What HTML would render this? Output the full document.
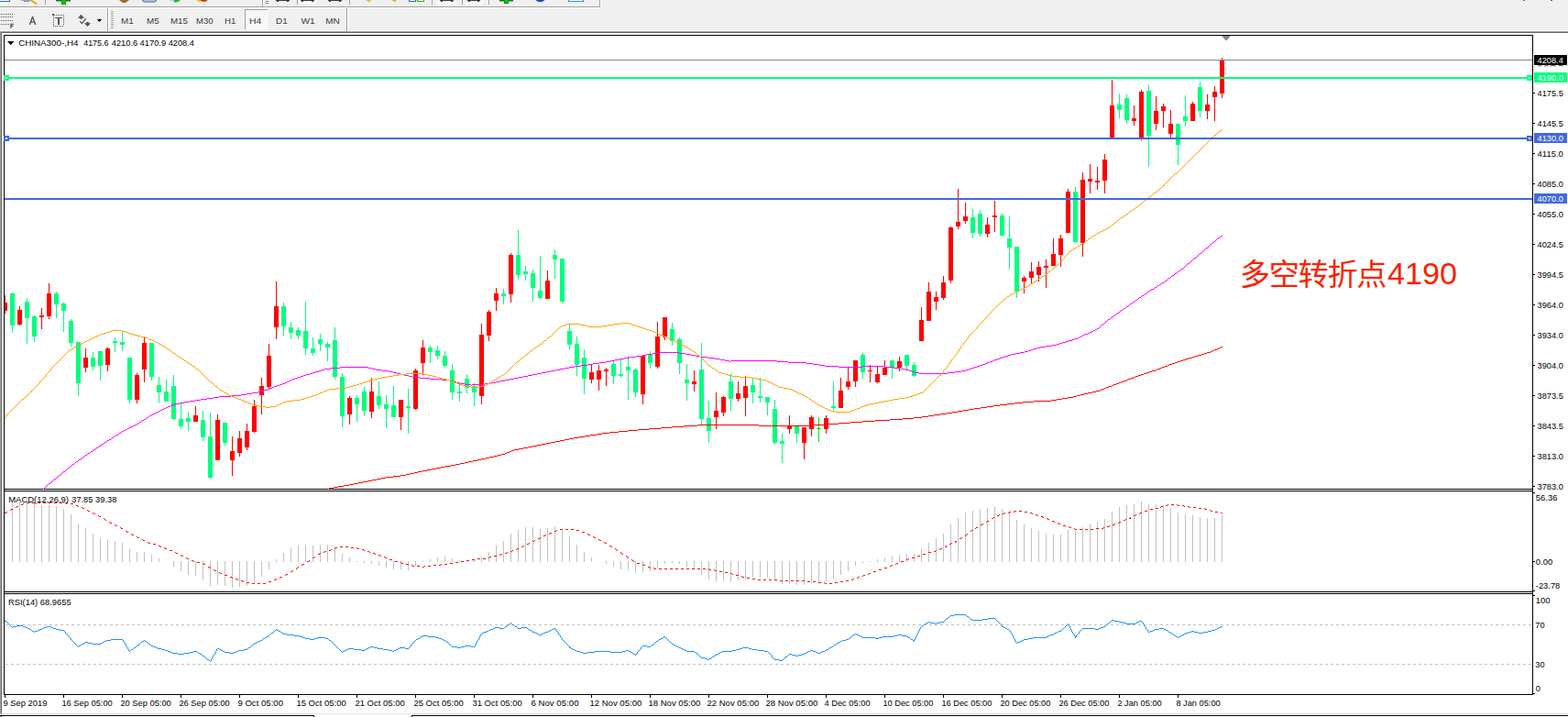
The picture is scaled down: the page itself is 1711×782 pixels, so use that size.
<!DOCTYPE html>
<html><head><meta charset="utf-8"><title>CHINA300 H4</title>
<style>
html,body{margin:0;padding:0;}
body{width:1711px;height:782px;overflow:hidden;background:#f0f0f0;position:relative;font-family:"Liberation Sans",sans-serif;}
svg text{font-family:"Liberation Sans",sans-serif;}
</style></head>
<body>
<svg width="1711" height="782" viewBox="0 0 1711 782" shape-rendering="crispEdges" font-family="Liberation Sans, sans-serif" style="position:absolute;left:0;top:0;display:block"><defs><clipPath id="sl"><rect x="1674" y="71" width="37" height="1.4"/></clipPath></defs><rect x="0" y="7" width="655" height="1" fill="#a0a0a0"/>
<rect x="0" y="8" width="655" height="1" fill="#ffffff"/>
<rect x="654" y="0" width="1" height="8" fill="#a0a0a0"/>
<rect x="655" y="0" width="1" height="9" fill="#fbfbfb"/>
<rect x="0" y="33" width="1711" height="1" fill="#fafafa"/>
<rect x="0" y="34" width="1711" height="1" fill="#a0a0a0"/>
<rect x="0" y="35" width="1711" height="1" fill="#696969"/>
<rect x="2" y="36" width="1709" height="746" fill="#ffffff"/>
<rect x="0" y="34" width="1" height="745" fill="#a0a0a0"/>
<rect x="1" y="35" width="1" height="743" fill="#696969"/>
<rect x="1" y="778" width="1710" height="1" fill="#e3e3e3"/>
<rect x="0" y="779" width="1711" height="3" fill="#ffffff"/>
<rect x="0" y="780" width="343" height="1" fill="#000"/>
<rect x="342" y="780" width="1" height="2" fill="#000"/>
<rect x="449" y="780" width="1262" height="1" fill="#000"/>
<rect x="449" y="780" width="1" height="2" fill="#000"/>
<rect x="0" y="781" width="1" height="1" fill="#a0a0a0"/>
<rect x="1" y="781" width="1" height="1" fill="#696969"/>
<rect x="0" y="0" width="16" height="5" fill="#f7f7f7"/>
<rect x="0" y="0" width="10" height="1" fill="#ffffff"/>
<rect x="0" y="1" width="11" height="1" fill="#2f6fd0"/>
<rect x="10" y="0" width="1" height="2" fill="#2f6fd0"/>
<rect x="23" y="0" width="11" height="1" fill="#9aaabd"/>
<rect x="26" y="1" width="6" height="1" fill="#7f93ad"/>
<path d="M32 0 L35 0 L41 4 L39 5 Z" fill="#d9a520" shape-rendering="auto"/>
<rect x="49" y="0" width="1" height="5" fill="#a0a0a0"/>
<rect x="61" y="0" width="16" height="1" fill="#0a7a0a"/>
<rect x="61" y="1" width="16" height="1" fill="#7fbf7f"/>
<rect x="67" y="0" width="5" height="5" fill="#0a8f0a"/>
<rect x="68" y="0" width="3" height="4" fill="#14c814"/>
<path d="M130 0 L141 0 L137 3 L134 3 Z" fill="#a5681f" shape-rendering="auto"/>
<rect x="155.5" y="-3" width="15" height="5" rx="2" fill="#b8c6e0" stroke="#4a62a8" shape-rendering="auto"/>
<path d="M185 0 L190 0 L190 2 Q187 2 185 0 Z" fill="#b9d2ee" shape-rendering="auto"/>
<path d="M190 0 L197 0 Q195 3 190 2.5 Z" fill="#2db52d" shape-rendering="auto"/>
<circle cx="217.5" cy="-1" r="3" fill="#f0c020" shape-rendering="auto"/>
<circle cx="222.5" cy="-2.5" r="4.6" fill="#e52a12" shape-rendering="auto"/>
<rect x="286" y="0" width="1" height="7" fill="#a0a0a0"/>
<rect x="287" y="0" width="1" height="7" fill="#ffffff"/>
<rect x="290" y="1" width="3" height="1" fill="#808080"/>
<rect x="290" y="3" width="3" height="1" fill="#808080"/>
<rect x="301" y="0" width="15" height="1" fill="#3c3c3c"/>
<rect x="302" y="1" width="2" height="1" fill="#3c3c3c"/>
<rect x="313" y="1" width="2" height="1" fill="#3c3c3c"/>
<rect x="324" y="0" width="1" height="5" fill="#a0a0a0"/>
<rect x="325" y="0" width="21" height="5" fill="#f8f8f8"/>
<rect x="328" y="0" width="15" height="1" fill="#3c3c3c"/>
<rect x="329" y="1" width="2" height="1" fill="#3c3c3c"/>
<rect x="340" y="1" width="2" height="1" fill="#3c3c3c"/>
<rect x="358" y="0" width="15" height="1" fill="#3c3c3c"/>
<rect x="359" y="1" width="2" height="1" fill="#3c3c3c"/>
<rect x="370" y="1" width="2" height="1" fill="#3c3c3c"/>
<rect x="381" y="0" width="1" height="5" fill="#a0a0a0"/>
<path d="M399 0 L405 0 L403 2.5 Z" fill="#e8b820" shape-rendering="auto"/>
<path d="M427 0 L433 0 L431 2.5 Z" fill="#e8b820" shape-rendering="auto"/>
<rect x="446" y="0" width="8" height="2" fill="#ffffff"/>
<rect x="446" y="1" width="8" height="1" fill="#2f5fd0"/>
<rect x="446" y="0" width="1" height="2" fill="#2f5fd0"/>
<rect x="453" y="0" width="1" height="2" fill="#2f5fd0"/>
<rect x="455" y="0" width="8" height="2" fill="#ffffff"/>
<rect x="455" y="1" width="8" height="1" fill="#2faa2f"/>
<rect x="455" y="0" width="1" height="2" fill="#2faa2f"/>
<rect x="462" y="0" width="1" height="2" fill="#2faa2f"/>
<rect x="471" y="0" width="1" height="5" fill="#a0a0a0"/>
<rect x="477" y="0" width="21" height="5" fill="#f8f8f8"/>
<rect x="480" y="0" width="15" height="1" fill="#3c3c3c"/>
<rect x="481" y="1" width="2" height="1" fill="#3c3c3c"/>
<rect x="492" y="1" width="2" height="1" fill="#3c3c3c"/>
<rect x="504" y="0" width="1" height="5" fill="#a0a0a0"/>
<rect x="507" y="0" width="20" height="5" fill="#f8f8f8"/>
<rect x="510" y="0" width="14" height="1" fill="#3c3c3c"/>
<rect x="511" y="1" width="2" height="1" fill="#3c3c3c"/>
<rect x="521" y="1" width="2" height="1" fill="#3c3c3c"/>
<rect x="533" y="0" width="1" height="5" fill="#a0a0a0"/>
<rect x="545" y="0" width="15" height="1" fill="#0a7a0a"/>
<rect x="545" y="1" width="15" height="1" fill="#7fbf7f"/>
<rect x="550" y="0" width="5" height="4" fill="#0a8f0a"/>
<rect x="551" y="0" width="3" height="3" fill="#14c814"/>
<circle cx="589.5" cy="-4" r="6.2" fill="#1846c4" shape-rendering="auto"/>
<rect x="620" y="0" width="17" height="2" fill="#ffffff"/>
<rect x="620" y="1" width="17" height="1" fill="#3f86dc"/>
<rect x="620" y="0" width="1" height="2" fill="#3f86dc"/>
<rect x="636" y="0" width="1" height="2" fill="#3f86dc"/>
<rect x="1662" y="0" width="2" height="1" fill="#3f6fe0"/>
<rect x="1692" y="0" width="2" height="1" fill="#606060"/>
<rect x="1" y="15" width="1" height="1" fill="#555555"/>
<rect x="3" y="15" width="1" height="1" fill="#555555"/>
<rect x="5" y="15" width="1" height="1" fill="#555555"/>
<rect x="7" y="15" width="1" height="1" fill="#555555"/>
<rect x="9" y="15" width="1" height="1" fill="#555555"/>
<rect x="11" y="15" width="1" height="1" fill="#555555"/>
<rect x="13" y="15" width="1" height="1" fill="#555555"/>
<rect x="1" y="18" width="1" height="1" fill="#555555"/>
<rect x="3" y="18" width="1" height="1" fill="#555555"/>
<rect x="5" y="18" width="1" height="1" fill="#555555"/>
<rect x="7" y="18" width="1" height="1" fill="#555555"/>
<rect x="9" y="18" width="1" height="1" fill="#555555"/>
<rect x="11" y="18" width="1" height="1" fill="#555555"/>
<rect x="13" y="18" width="1" height="1" fill="#555555"/>
<rect x="1" y="22" width="1" height="1" fill="#555555"/>
<rect x="3" y="22" width="1" height="1" fill="#555555"/>
<rect x="5" y="22" width="1" height="1" fill="#555555"/>
<rect x="7" y="22" width="1" height="1" fill="#555555"/>
<rect x="9" y="22" width="1" height="1" fill="#555555"/>
<rect x="11" y="22" width="1" height="1" fill="#555555"/>
<rect x="13" y="22" width="1" height="1" fill="#555555"/>
<rect x="1" y="26" width="1" height="1" fill="#555555"/>
<rect x="3" y="26" width="1" height="1" fill="#555555"/>
<rect x="5" y="26" width="1" height="1" fill="#555555"/>
<rect x="7" y="26" width="1" height="1" fill="#555555"/>
<rect x="9" y="26" width="1" height="1" fill="#555555"/>
<path d="M11.3 26.3 H15 M11.3 28.4 H14.4 M11.9 26 V31" fill="none" stroke="#555555" stroke-width="1.2" shape-rendering="auto"/>
<path d="M32.4 27 L35.55 18.3 L38.7 27 M33.7 24.05 H37.5" fill="none" stroke="#555555" stroke-width="1.35" stroke-linejoin="round" shape-rendering="auto"/>
<rect x="61" y="16" width="1" height="1" fill="#555555"/>
<rect x="63" y="16" width="1" height="1" fill="#555555"/>
<rect x="65" y="16" width="1" height="1" fill="#555555"/>
<rect x="67" y="16" width="1" height="1" fill="#555555"/>
<rect x="69" y="16" width="1" height="1" fill="#555555"/>
<rect x="58" y="28" width="1" height="1" fill="#555555"/>
<rect x="60" y="28" width="1" height="1" fill="#555555"/>
<rect x="62" y="28" width="1" height="1" fill="#555555"/>
<rect x="64" y="28" width="1" height="1" fill="#555555"/>
<rect x="66" y="28" width="1" height="1" fill="#555555"/>
<rect x="68" y="28" width="1" height="1" fill="#555555"/>
<rect x="58" y="18" width="1" height="1" fill="#555555"/>
<rect x="58" y="20" width="1" height="1" fill="#555555"/>
<rect x="58" y="22" width="1" height="1" fill="#555555"/>
<rect x="58" y="24" width="1" height="1" fill="#555555"/>
<rect x="58" y="26" width="1" height="1" fill="#555555"/>
<rect x="58" y="28" width="1" height="1" fill="#555555"/>
<rect x="69" y="16" width="1" height="1" fill="#555555"/>
<rect x="69" y="18" width="1" height="1" fill="#555555"/>
<rect x="69" y="20" width="1" height="1" fill="#555555"/>
<rect x="69" y="22" width="1" height="1" fill="#555555"/>
<rect x="69" y="24" width="1" height="1" fill="#555555"/>
<rect x="69" y="26" width="1" height="1" fill="#555555"/>
<rect x="57" y="15" width="2" height="2" fill="#555555"/>
<rect x="59" y="16" width="1" height="1" fill="#555555"/>
<rect x="60" y="19" width="8" height="1" fill="#555555"/>
<rect x="63" y="19" width="2" height="8" fill="#555555"/>
<path d="M88.5 15.8 L92.2 19.8 L89.8 19.8 L89.8 20.8 L87.2 20.8 L87.2 19.8 L84.8 19.8 Z M95.5 29 L99.2 25.2 L96.8 25.2 L96.8 24.1 L94.2 24.1 L94.2 25.2 L91.8 25.2 Z" fill="#555555" shape-rendering="auto"/>
<path d="M87.2 23.3 L89.4 25.5 L93.7 20.3" fill="none" stroke="#555555" stroke-width="1.3" shape-rendering="auto"/>
<path d="M105.8 21 L111.2 21 L108.5 24.1 Z" fill="#000" shape-rendering="auto"/>
<rect x="117" y="9" width="1" height="25" fill="#a0a0a0"/>
<rect x="118" y="9" width="1" height="25" fill="#ffffff"/>
<rect x="121" y="12" width="3" height="1" fill="#a0a0a0"/>
<rect x="121" y="13" width="3" height="1" fill="#fafafa"/>
<rect x="121" y="14" width="3" height="1" fill="#a0a0a0"/>
<rect x="121" y="15" width="3" height="1" fill="#fafafa"/>
<rect x="121" y="16" width="3" height="1" fill="#a0a0a0"/>
<rect x="121" y="17" width="3" height="1" fill="#fafafa"/>
<rect x="121" y="18" width="3" height="1" fill="#a0a0a0"/>
<rect x="121" y="19" width="3" height="1" fill="#fafafa"/>
<rect x="121" y="20" width="3" height="1" fill="#a0a0a0"/>
<rect x="121" y="21" width="3" height="1" fill="#fafafa"/>
<rect x="121" y="22" width="3" height="1" fill="#a0a0a0"/>
<rect x="121" y="23" width="3" height="1" fill="#fafafa"/>
<rect x="121" y="24" width="3" height="1" fill="#a0a0a0"/>
<rect x="121" y="25" width="3" height="1" fill="#fafafa"/>
<rect x="121" y="26" width="3" height="1" fill="#a0a0a0"/>
<rect x="121" y="27" width="3" height="1" fill="#fafafa"/>
<rect x="121" y="28" width="3" height="1" fill="#a0a0a0"/>
<rect x="121" y="29" width="3" height="1" fill="#fafafa"/>
<rect x="121" y="30" width="3" height="1" fill="#a0a0a0"/>
<rect x="121" y="31" width="3" height="1" fill="#fafafa"/>
<rect x="267" y="10" width="25" height="22" fill="#f7f7f7"/>
<rect x="267" y="10" width="25" height="1" fill="#a0a0a0"/>
<rect x="267" y="10" width="1" height="22" fill="#a0a0a0"/>
<rect x="268" y="31" width="24" height="1" fill="#ffffff"/>
<rect x="291" y="11" width="1" height="21" fill="#ffffff"/>
<text x="132.0" y="26" font-size="9.9" fill="#3a3a3a" textLength="13.7" lengthAdjust="spacingAndGlyphs">M1</text>
<text x="160.1" y="26" font-size="9.9" fill="#3a3a3a" textLength="13.7" lengthAdjust="spacingAndGlyphs">M5</text>
<text x="185.9" y="26" font-size="9.9" fill="#3a3a3a" textLength="19.0" lengthAdjust="spacingAndGlyphs">M15</text>
<text x="214.0" y="26" font-size="9.9" fill="#3a3a3a" textLength="18.5" lengthAdjust="spacingAndGlyphs">M30</text>
<text x="245.1" y="26" font-size="9.9" fill="#3a3a3a" textLength="12.4" lengthAdjust="spacingAndGlyphs">H1</text>
<text x="272.1" y="26" font-size="9.9" fill="#3a3a3a" textLength="13.3" lengthAdjust="spacingAndGlyphs">H4</text>
<text x="301.1" y="26" font-size="9.9" fill="#3a3a3a" textLength="12.7" lengthAdjust="spacingAndGlyphs">D1</text>
<text x="328.5" y="26" font-size="9.9" fill="#3a3a3a" textLength="15.2" lengthAdjust="spacingAndGlyphs">W1</text>
<text x="355.3" y="26" font-size="9.9" fill="#3a3a3a" textLength="15.4" lengthAdjust="spacingAndGlyphs">MN</text>
<rect x="378" y="9" width="1" height="25" fill="#a0a0a0"/>
<rect x="379" y="9" width="1" height="25" fill="#ffffff"/>
<rect x="4" y="38" width="1" height="720" fill="#000"/>
<rect x="1672" y="38" width="1" height="720" fill="#000"/>
<rect x="4" y="38" width="1669" height="1" fill="#000"/>
<rect x="4" y="533" width="1669" height="1" fill="#000"/>
<rect x="4" y="535" width="1669" height="1" fill="#000"/>
<rect x="4" y="645" width="1669" height="1" fill="#000"/>
<rect x="4" y="647" width="1669" height="1" fill="#000"/>
<rect x="4" y="757" width="1669" height="1" fill="#000"/>
<rect x="5" y="322" width="1" height="20" fill="#ff0000"/>
<rect x="5" y="330" width="3" height="9" fill="#ff0000"/>
<rect x="13" y="319" width="1" height="44" fill="#00ff7f"/>
<rect x="11" y="320" width="5" height="35" fill="#00ff7f"/>
<rect x="21" y="334" width="1" height="21" fill="#ff0000"/>
<rect x="19" y="338" width="5" height="16" fill="#ff0000"/>
<rect x="29" y="325" width="1" height="50" fill="#00ff7f"/>
<rect x="27" y="329" width="5" height="18" fill="#00ff7f"/>
<rect x="37" y="344" width="1" height="29" fill="#00ff7f"/>
<rect x="35" y="345" width="5" height="22" fill="#00ff7f"/>
<rect x="45" y="336" width="1" height="23" fill="#ff0000"/>
<rect x="43" y="344" width="5" height="2" fill="#ff0000"/>
<rect x="53" y="309" width="1" height="39" fill="#ff0000"/>
<rect x="51" y="320" width="5" height="25" fill="#ff0000"/>
<rect x="61" y="318" width="1" height="29" fill="#00ff7f"/>
<rect x="59" y="320" width="5" height="12" fill="#00ff7f"/>
<rect x="69" y="330" width="1" height="32" fill="#00ff7f"/>
<rect x="67" y="331" width="5" height="8" fill="#00ff7f"/>
<rect x="77" y="348" width="1" height="30" fill="#00ff7f"/>
<rect x="75" y="350" width="5" height="24" fill="#00ff7f"/>
<rect x="85" y="373" width="1" height="59" fill="#00ff7f"/>
<rect x="83" y="373" width="5" height="45" fill="#00ff7f"/>
<rect x="93" y="380" width="1" height="26" fill="#ff0000"/>
<rect x="91" y="390" width="5" height="11" fill="#ff0000"/>
<rect x="101" y="384" width="1" height="20" fill="#00ff7f"/>
<rect x="99" y="390" width="5" height="10" fill="#00ff7f"/>
<rect x="109" y="383" width="1" height="32" fill="#00ff7f"/>
<rect x="107" y="383" width="5" height="16" fill="#00ff7f"/>
<rect x="117" y="379" width="1" height="26" fill="#ff0000"/>
<rect x="115" y="380" width="5" height="18" fill="#ff0000"/>
<rect x="125" y="368" width="1" height="16" fill="#00ff7f"/>
<rect x="123" y="372" width="5" height="2" fill="#00ff7f"/>
<rect x="133" y="362" width="1" height="21" fill="#00ff7f"/>
<rect x="131" y="373" width="5" height="3" fill="#00ff7f"/>
<rect x="141" y="390" width="1" height="50" fill="#00ff7f"/>
<rect x="139" y="390" width="5" height="46" fill="#00ff7f"/>
<rect x="149" y="407" width="1" height="33" fill="#ff0000"/>
<rect x="147" y="409" width="5" height="27" fill="#ff0000"/>
<rect x="157" y="367" width="1" height="50" fill="#ff0000"/>
<rect x="155" y="374" width="5" height="29" fill="#ff0000"/>
<rect x="165" y="374" width="1" height="41" fill="#00ff7f"/>
<rect x="163" y="374" width="5" height="37" fill="#00ff7f"/>
<rect x="173" y="411" width="1" height="28" fill="#00ff7f"/>
<rect x="171" y="420" width="5" height="8" fill="#00ff7f"/>
<rect x="181" y="414" width="1" height="24" fill="#00ff7f"/>
<rect x="179" y="427" width="5" height="11" fill="#00ff7f"/>
<rect x="189" y="409" width="1" height="49" fill="#00ff7f"/>
<rect x="187" y="421" width="5" height="36" fill="#00ff7f"/>
<rect x="197" y="440" width="1" height="28" fill="#00ff7f"/>
<rect x="195" y="457" width="5" height="8" fill="#00ff7f"/>
<rect x="205" y="449" width="1" height="21" fill="#00ff7f"/>
<rect x="203" y="456" width="5" height="4" fill="#00ff7f"/>
<rect x="213" y="443" width="1" height="17" fill="#ff0000"/>
<rect x="211" y="453" width="5" height="7" fill="#ff0000"/>
<rect x="221" y="448" width="1" height="33" fill="#00ff7f"/>
<rect x="219" y="458" width="5" height="19" fill="#00ff7f"/>
<rect x="229" y="450" width="1" height="72" fill="#00ff7f"/>
<rect x="227" y="476" width="5" height="45" fill="#00ff7f"/>
<rect x="237" y="452" width="1" height="50" fill="#ff0000"/>
<rect x="235" y="458" width="5" height="44" fill="#ff0000"/>
<rect x="245" y="461" width="1" height="25" fill="#00ff7f"/>
<rect x="243" y="461" width="5" height="22" fill="#00ff7f"/>
<rect x="253" y="476" width="1" height="43" fill="#ff0000"/>
<rect x="251" y="492" width="5" height="10" fill="#ff0000"/>
<rect x="261" y="470" width="1" height="28" fill="#ff0000"/>
<rect x="259" y="478" width="5" height="16" fill="#ff0000"/>
<rect x="269" y="462" width="1" height="29" fill="#ff0000"/>
<rect x="267" y="470" width="5" height="18" fill="#ff0000"/>
<rect x="277" y="436" width="1" height="36" fill="#ff0000"/>
<rect x="275" y="443" width="5" height="28" fill="#ff0000"/>
<rect x="285" y="412" width="1" height="40" fill="#ff0000"/>
<rect x="283" y="421" width="5" height="10" fill="#ff0000"/>
<rect x="293" y="375" width="1" height="49" fill="#ff0000"/>
<rect x="291" y="388" width="5" height="34" fill="#ff0000"/>
<rect x="301" y="307" width="1" height="63" fill="#ff0000"/>
<rect x="299" y="334" width="5" height="23" fill="#ff0000"/>
<rect x="309" y="330" width="1" height="36" fill="#00ff7f"/>
<rect x="307" y="334" width="5" height="22" fill="#00ff7f"/>
<rect x="317" y="351" width="1" height="19" fill="#00ff7f"/>
<rect x="315" y="357" width="5" height="6" fill="#00ff7f"/>
<rect x="325" y="357" width="1" height="13" fill="#00ff7f"/>
<rect x="323" y="360" width="5" height="6" fill="#00ff7f"/>
<rect x="333" y="329" width="1" height="58" fill="#00ff7f"/>
<rect x="331" y="361" width="5" height="19" fill="#00ff7f"/>
<rect x="341" y="368" width="1" height="20" fill="#00ff7f"/>
<rect x="339" y="380" width="5" height="5" fill="#00ff7f"/>
<rect x="349" y="364" width="1" height="19" fill="#00ff7f"/>
<rect x="347" y="370" width="5" height="5" fill="#00ff7f"/>
<rect x="357" y="373" width="1" height="21" fill="#00ff7f"/>
<rect x="355" y="375" width="5" height="4" fill="#00ff7f"/>
<rect x="365" y="357" width="1" height="57" fill="#00ff7f"/>
<rect x="363" y="371" width="5" height="40" fill="#00ff7f"/>
<rect x="373" y="407" width="1" height="59" fill="#00ff7f"/>
<rect x="371" y="411" width="5" height="43" fill="#00ff7f"/>
<rect x="381" y="432" width="1" height="31" fill="#ff0000"/>
<rect x="379" y="434" width="5" height="18" fill="#ff0000"/>
<rect x="389" y="431" width="1" height="29" fill="#00ff7f"/>
<rect x="387" y="434" width="5" height="7" fill="#00ff7f"/>
<rect x="397" y="422" width="1" height="32" fill="#00ff7f"/>
<rect x="395" y="427" width="5" height="21" fill="#00ff7f"/>
<rect x="405" y="412" width="1" height="44" fill="#ff0000"/>
<rect x="403" y="427" width="5" height="22" fill="#ff0000"/>
<rect x="413" y="416" width="1" height="30" fill="#00ff7f"/>
<rect x="411" y="432" width="5" height="10" fill="#00ff7f"/>
<rect x="421" y="431" width="1" height="36" fill="#00ff7f"/>
<rect x="419" y="441" width="5" height="5" fill="#00ff7f"/>
<rect x="429" y="421" width="1" height="34" fill="#00ff7f"/>
<rect x="427" y="442" width="5" height="13" fill="#00ff7f"/>
<rect x="437" y="436" width="1" height="33" fill="#ff0000"/>
<rect x="435" y="436" width="5" height="19" fill="#ff0000"/>
<rect x="445" y="424" width="1" height="49" fill="#00ff7f"/>
<rect x="443" y="443" width="5" height="2" fill="#00ff7f"/>
<rect x="453" y="402" width="1" height="45" fill="#ff0000"/>
<rect x="451" y="404" width="5" height="42" fill="#ff0000"/>
<rect x="461" y="371" width="1" height="38" fill="#ff0000"/>
<rect x="459" y="379" width="5" height="17" fill="#ff0000"/>
<rect x="469" y="377" width="1" height="19" fill="#00ff7f"/>
<rect x="467" y="379" width="5" height="5" fill="#00ff7f"/>
<rect x="477" y="377" width="1" height="15" fill="#00ff7f"/>
<rect x="475" y="382" width="5" height="6" fill="#00ff7f"/>
<rect x="485" y="383" width="1" height="18" fill="#00ff7f"/>
<rect x="483" y="388" width="5" height="11" fill="#00ff7f"/>
<rect x="493" y="397" width="1" height="39" fill="#00ff7f"/>
<rect x="491" y="404" width="5" height="24" fill="#00ff7f"/>
<rect x="501" y="417" width="1" height="21" fill="#00ff7f"/>
<rect x="499" y="427" width="5" height="2" fill="#00ff7f"/>
<rect x="509" y="408" width="1" height="21" fill="#00ff7f"/>
<rect x="507" y="413" width="5" height="10" fill="#00ff7f"/>
<rect x="517" y="418" width="1" height="25" fill="#00ff7f"/>
<rect x="515" y="421" width="5" height="7" fill="#00ff7f"/>
<rect x="525" y="353" width="1" height="88" fill="#ff0000"/>
<rect x="523" y="365" width="5" height="67" fill="#ff0000"/>
<rect x="533" y="338" width="1" height="34" fill="#ff0000"/>
<rect x="531" y="340" width="5" height="26" fill="#ff0000"/>
<rect x="541" y="314" width="1" height="25" fill="#ff0000"/>
<rect x="539" y="320" width="5" height="8" fill="#ff0000"/>
<rect x="549" y="315" width="1" height="17" fill="#00ff7f"/>
<rect x="547" y="320" width="5" height="3" fill="#00ff7f"/>
<rect x="557" y="276" width="1" height="54" fill="#ff0000"/>
<rect x="555" y="278" width="5" height="43" fill="#ff0000"/>
<rect x="565" y="251" width="1" height="54" fill="#00ff7f"/>
<rect x="563" y="278" width="5" height="22" fill="#00ff7f"/>
<rect x="573" y="290" width="1" height="16" fill="#00ff7f"/>
<rect x="571" y="296" width="5" height="3" fill="#00ff7f"/>
<rect x="581" y="294" width="1" height="35" fill="#00ff7f"/>
<rect x="579" y="298" width="5" height="16" fill="#00ff7f"/>
<rect x="589" y="279" width="1" height="47" fill="#00ff7f"/>
<rect x="587" y="317" width="5" height="8" fill="#00ff7f"/>
<rect x="597" y="295" width="1" height="31" fill="#ff0000"/>
<rect x="595" y="306" width="5" height="20" fill="#ff0000"/>
<rect x="605" y="272" width="1" height="32" fill="#00ff7f"/>
<rect x="603" y="278" width="5" height="5" fill="#00ff7f"/>
<rect x="613" y="282" width="1" height="49" fill="#00ff7f"/>
<rect x="611" y="282" width="5" height="47" fill="#00ff7f"/>
<rect x="621" y="354" width="1" height="27" fill="#00ff7f"/>
<rect x="619" y="361" width="5" height="15" fill="#00ff7f"/>
<rect x="629" y="367" width="1" height="43" fill="#00ff7f"/>
<rect x="627" y="375" width="5" height="23" fill="#00ff7f"/>
<rect x="637" y="381" width="1" height="49" fill="#00ff7f"/>
<rect x="635" y="390" width="5" height="23" fill="#00ff7f"/>
<rect x="645" y="397" width="1" height="21" fill="#ff0000"/>
<rect x="643" y="406" width="5" height="8" fill="#ff0000"/>
<rect x="653" y="398" width="1" height="28" fill="#ff0000"/>
<rect x="651" y="404" width="5" height="10" fill="#ff0000"/>
<rect x="661" y="401" width="1" height="20" fill="#ff0000"/>
<rect x="659" y="403" width="5" height="2" fill="#ff0000"/>
<rect x="669" y="394" width="1" height="25" fill="#00ff7f"/>
<rect x="667" y="397" width="5" height="13" fill="#00ff7f"/>
<rect x="677" y="391" width="1" height="21" fill="#00ff7f"/>
<rect x="675" y="408" width="5" height="2" fill="#00ff7f"/>
<rect x="685" y="388" width="1" height="48" fill="#00ff7f"/>
<rect x="683" y="400" width="5" height="4" fill="#00ff7f"/>
<rect x="693" y="402" width="1" height="31" fill="#00ff7f"/>
<rect x="691" y="403" width="5" height="25" fill="#00ff7f"/>
<rect x="701" y="388" width="1" height="53" fill="#ff0000"/>
<rect x="699" y="388" width="5" height="42" fill="#ff0000"/>
<rect x="709" y="383" width="1" height="19" fill="#00ff7f"/>
<rect x="707" y="387" width="5" height="9" fill="#00ff7f"/>
<rect x="717" y="351" width="1" height="51" fill="#ff0000"/>
<rect x="715" y="367" width="5" height="33" fill="#ff0000"/>
<rect x="725" y="346" width="1" height="25" fill="#ff0000"/>
<rect x="723" y="346" width="5" height="22" fill="#ff0000"/>
<rect x="733" y="352" width="1" height="25" fill="#00ff7f"/>
<rect x="731" y="359" width="5" height="13" fill="#00ff7f"/>
<rect x="741" y="368" width="1" height="40" fill="#00ff7f"/>
<rect x="739" y="370" width="5" height="26" fill="#00ff7f"/>
<rect x="749" y="397" width="1" height="40" fill="#00ff7f"/>
<rect x="747" y="414" width="5" height="4" fill="#00ff7f"/>
<rect x="757" y="404" width="1" height="23" fill="#ff0000"/>
<rect x="755" y="416" width="5" height="3" fill="#ff0000"/>
<rect x="765" y="374" width="1" height="89" fill="#00ff7f"/>
<rect x="763" y="403" width="5" height="54" fill="#00ff7f"/>
<rect x="773" y="437" width="1" height="46" fill="#00ff7f"/>
<rect x="771" y="456" width="5" height="14" fill="#00ff7f"/>
<rect x="781" y="428" width="1" height="40" fill="#ff0000"/>
<rect x="779" y="448" width="5" height="7" fill="#ff0000"/>
<rect x="789" y="432" width="1" height="22" fill="#ff0000"/>
<rect x="787" y="433" width="5" height="17" fill="#ff0000"/>
<rect x="797" y="407" width="1" height="41" fill="#00ff7f"/>
<rect x="795" y="416" width="5" height="19" fill="#00ff7f"/>
<rect x="805" y="416" width="1" height="22" fill="#ff0000"/>
<rect x="803" y="429" width="5" height="6" fill="#ff0000"/>
<rect x="813" y="410" width="1" height="44" fill="#ff0000"/>
<rect x="811" y="421" width="5" height="13" fill="#ff0000"/>
<rect x="821" y="413" width="1" height="27" fill="#00ff7f"/>
<rect x="819" y="420" width="5" height="8" fill="#00ff7f"/>
<rect x="829" y="412" width="1" height="27" fill="#00ff7f"/>
<rect x="827" y="432" width="5" height="2" fill="#00ff7f"/>
<rect x="837" y="433" width="1" height="20" fill="#00ff7f"/>
<rect x="835" y="433" width="5" height="6" fill="#00ff7f"/>
<rect x="845" y="436" width="1" height="49" fill="#00ff7f"/>
<rect x="843" y="446" width="5" height="37" fill="#00ff7f"/>
<rect x="853" y="473" width="1" height="32" fill="#00ff7f"/>
<rect x="851" y="481" width="5" height="3" fill="#00ff7f"/>
<rect x="861" y="453" width="1" height="20" fill="#ff0000"/>
<rect x="859" y="464" width="5" height="4" fill="#ff0000"/>
<rect x="869" y="465" width="1" height="18" fill="#00ff7f"/>
<rect x="867" y="465" width="5" height="8" fill="#00ff7f"/>
<rect x="877" y="466" width="1" height="35" fill="#ff0000"/>
<rect x="875" y="466" width="5" height="17" fill="#ff0000"/>
<rect x="885" y="453" width="1" height="23" fill="#ff0000"/>
<rect x="883" y="455" width="5" height="13" fill="#ff0000"/>
<rect x="893" y="455" width="1" height="27" fill="#00e000"/>
<rect x="891" y="467" width="5" height="1" fill="#00e000"/>
<rect x="901" y="453" width="1" height="20" fill="#ff0000"/>
<rect x="899" y="456" width="5" height="12" fill="#ff0000"/>
<rect x="909" y="416" width="1" height="31" fill="#00ff7f"/>
<rect x="907" y="443" width="5" height="2" fill="#00ff7f"/>
<rect x="917" y="412" width="1" height="33" fill="#ff0000"/>
<rect x="915" y="426" width="5" height="19" fill="#ff0000"/>
<rect x="925" y="401" width="1" height="24" fill="#ff0000"/>
<rect x="923" y="416" width="5" height="6" fill="#ff0000"/>
<rect x="933" y="393" width="1" height="29" fill="#ff0000"/>
<rect x="931" y="393" width="5" height="23" fill="#ff0000"/>
<rect x="941" y="385" width="1" height="28" fill="#00ff7f"/>
<rect x="939" y="387" width="5" height="19" fill="#00ff7f"/>
<rect x="949" y="398" width="1" height="19" fill="#ff0000"/>
<rect x="947" y="404" width="5" height="1" fill="#ff0000"/>
<rect x="957" y="399" width="1" height="19" fill="#ff0000"/>
<rect x="955" y="408" width="5" height="9" fill="#ff0000"/>
<rect x="965" y="393" width="1" height="16" fill="#ff0000"/>
<rect x="963" y="401" width="5" height="8" fill="#ff0000"/>
<rect x="973" y="393" width="1" height="20" fill="#00ff7f"/>
<rect x="971" y="393" width="5" height="8" fill="#00ff7f"/>
<rect x="981" y="389" width="1" height="16" fill="#ff0000"/>
<rect x="979" y="394" width="5" height="7" fill="#ff0000"/>
<rect x="989" y="387" width="1" height="16" fill="#00ff7f"/>
<rect x="987" y="387" width="5" height="12" fill="#00ff7f"/>
<rect x="997" y="395" width="1" height="16" fill="#00ff7f"/>
<rect x="995" y="398" width="5" height="12" fill="#00ff7f"/>
<rect x="1005" y="335" width="1" height="37" fill="#ff0000"/>
<rect x="1003" y="349" width="5" height="23" fill="#ff0000"/>
<rect x="1013" y="308" width="1" height="42" fill="#ff0000"/>
<rect x="1011" y="318" width="5" height="32" fill="#ff0000"/>
<rect x="1021" y="318" width="1" height="20" fill="#ff0000"/>
<rect x="1019" y="324" width="5" height="5" fill="#ff0000"/>
<rect x="1029" y="301" width="1" height="26" fill="#ff0000"/>
<rect x="1027" y="308" width="5" height="17" fill="#ff0000"/>
<rect x="1037" y="247" width="1" height="62" fill="#ff0000"/>
<rect x="1035" y="248" width="5" height="58" fill="#ff0000"/>
<rect x="1045" y="206" width="1" height="44" fill="#ff0000"/>
<rect x="1043" y="242" width="5" height="5" fill="#ff0000"/>
<rect x="1053" y="221" width="1" height="23" fill="#ff0000"/>
<rect x="1051" y="236" width="5" height="5" fill="#ff0000"/>
<rect x="1061" y="228" width="1" height="32" fill="#00ff7f"/>
<rect x="1059" y="237" width="5" height="17" fill="#00ff7f"/>
<rect x="1069" y="229" width="1" height="29" fill="#00ff7f"/>
<rect x="1067" y="233" width="5" height="22" fill="#00ff7f"/>
<rect x="1077" y="237" width="1" height="22" fill="#ff0000"/>
<rect x="1075" y="245" width="5" height="10" fill="#ff0000"/>
<rect x="1085" y="219" width="1" height="34" fill="#ff0000"/>
<rect x="1083" y="235" width="5" height="2" fill="#ff0000"/>
<rect x="1093" y="233" width="1" height="24" fill="#00ff7f"/>
<rect x="1091" y="235" width="5" height="22" fill="#00ff7f"/>
<rect x="1101" y="236" width="1" height="58" fill="#00ff7f"/>
<rect x="1099" y="260" width="5" height="10" fill="#00ff7f"/>
<rect x="1109" y="269" width="1" height="56" fill="#00ff7f"/>
<rect x="1107" y="269" width="5" height="49" fill="#00ff7f"/>
<rect x="1117" y="301" width="1" height="19" fill="#ff0000"/>
<rect x="1115" y="303" width="5" height="4" fill="#ff0000"/>
<rect x="1125" y="286" width="1" height="24" fill="#ff0000"/>
<rect x="1123" y="296" width="5" height="7" fill="#ff0000"/>
<rect x="1133" y="285" width="1" height="22" fill="#ff0000"/>
<rect x="1131" y="291" width="5" height="9" fill="#ff0000"/>
<rect x="1141" y="283" width="1" height="31" fill="#ff0000"/>
<rect x="1139" y="290" width="5" height="2" fill="#ff0000"/>
<rect x="1149" y="260" width="1" height="30" fill="#ff0000"/>
<rect x="1147" y="277" width="5" height="13" fill="#ff0000"/>
<rect x="1157" y="256" width="1" height="35" fill="#ff0000"/>
<rect x="1155" y="260" width="5" height="18" fill="#ff0000"/>
<rect x="1165" y="206" width="1" height="48" fill="#ff0000"/>
<rect x="1163" y="209" width="5" height="45" fill="#ff0000"/>
<rect x="1173" y="204" width="1" height="61" fill="#00ff7f"/>
<rect x="1171" y="209" width="5" height="55" fill="#00ff7f"/>
<rect x="1181" y="188" width="1" height="92" fill="#ff0000"/>
<rect x="1179" y="196" width="5" height="69" fill="#ff0000"/>
<rect x="1189" y="179" width="1" height="32" fill="#ff0000"/>
<rect x="1187" y="195" width="5" height="3" fill="#ff0000"/>
<rect x="1197" y="182" width="1" height="25" fill="#ff0000"/>
<rect x="1195" y="197" width="5" height="2" fill="#ff0000"/>
<rect x="1205" y="168" width="1" height="43" fill="#ff0000"/>
<rect x="1203" y="174" width="5" height="23" fill="#ff0000"/>
<rect x="1213" y="87" width="1" height="63" fill="#ff0000"/>
<rect x="1211" y="115" width="5" height="35" fill="#ff0000"/>
<rect x="1221" y="102" width="1" height="27" fill="#00ff7f"/>
<rect x="1219" y="114" width="5" height="6" fill="#00ff7f"/>
<rect x="1229" y="103" width="1" height="32" fill="#00ff7f"/>
<rect x="1227" y="107" width="5" height="24" fill="#00ff7f"/>
<rect x="1237" y="115" width="1" height="22" fill="#ff0000"/>
<rect x="1235" y="129" width="5" height="3" fill="#ff0000"/>
<rect x="1245" y="98" width="1" height="55" fill="#ff0000"/>
<rect x="1243" y="100" width="5" height="50" fill="#ff0000"/>
<rect x="1253" y="93" width="1" height="89" fill="#00ff7f"/>
<rect x="1251" y="99" width="5" height="49" fill="#00ff7f"/>
<rect x="1261" y="105" width="1" height="37" fill="#ff0000"/>
<rect x="1259" y="121" width="5" height="14" fill="#ff0000"/>
<rect x="1269" y="113" width="1" height="26" fill="#ff0000"/>
<rect x="1267" y="116" width="5" height="5" fill="#ff0000"/>
<rect x="1277" y="120" width="1" height="30" fill="#ff0000"/>
<rect x="1275" y="135" width="5" height="11" fill="#ff0000"/>
<rect x="1285" y="135" width="1" height="45" fill="#00ff7f"/>
<rect x="1283" y="135" width="5" height="23" fill="#00ff7f"/>
<rect x="1293" y="104" width="1" height="33" fill="#00ff7f"/>
<rect x="1291" y="127" width="5" height="5" fill="#00ff7f"/>
<rect x="1301" y="111" width="1" height="21" fill="#ff0000"/>
<rect x="1299" y="113" width="5" height="19" fill="#ff0000"/>
<rect x="1309" y="89" width="1" height="39" fill="#00ff7f"/>
<rect x="1307" y="95" width="5" height="26" fill="#00ff7f"/>
<rect x="1317" y="103" width="1" height="27" fill="#ff0000"/>
<rect x="1315" y="114" width="5" height="7" fill="#ff0000"/>
<rect x="1325" y="94" width="1" height="38" fill="#ff0000"/>
<rect x="1323" y="100" width="5" height="6" fill="#ff0000"/>
<rect x="1333" y="63" width="1" height="44" fill="#ff0000"/>
<rect x="1331" y="65" width="5" height="37" fill="#ff0000"/>
<path d="M721 466.5h12M746 464.5h15M828 464.5h58M581 486.5h5M1013 453.5h6M761 463.5h67M886 463.5h15M685 469.5h11M1033 450.5h6M1116 438.5h12M1234 412.5h3M443 517.5h4M657 472.5h8M1207 422.5h3M1183 429.5h4M1147 436.5h6M359 532.5h5M471 511.5h5M1128 437.5h19M1294 391.5h3M971 457.5h14M437 518.5h6M525 500.5h5M606 481.5h5M1239 410.5h3M1245 408.5h3M566 489.5h5M364 531.5h5M452 515.5h4M985 456.5h12M1091 441.5h8M1271 399.5h3M551 494.5h2M421 520.5h8M733 465.5h13M941 459.5h14M1213 420.5h2M586 485.5h5M1317 384.5h4M901 462.5h14M696 468.5h12M1039 449.5h6M1171 432.5h4M1223 416.5h3M381 528.5h5M665 471.5h10M1077 443.5h7M456 514.5h5M401 524.5h5M616 479.5h5M1057 446.5h6M511 503.5h5M476 510.5h5M651 473.5h6M1006 454.5h7M539 497.5h4M492 507.5h5M1307 387.5h4M1063 445.5h7M1229 414.5h2M955 458.5h16M915 461.5h13M708 467.5h13M1202 424.5h3M1257 404.5h4M486 508.5h6M561 490.5h5M621 478.5h5M1268 400.5h3M1084 442.5h7M1099 440.5h8M416 521.5h5M1165 433.5h6M1314 385.5h3M375 529.5h6M1263 402.5h3M626 477.5h6M1070 444.5h7M396 525.5h5M1019 452.5h7M644 474.5h7M1321 383.5h2M1330 379.5h2M1107 439.5h9M596 483.5h5M928 460.5h13M1301 389.5h3M497 506.5h5M1279 396.5h3M558 491.5h3M1196 426.5h4M1251 406.5h3M576 487.5h5M1026 451.5h7M1159 434.5h6M369 530.5h6M1179 430.5h4M447 516.5h5M1045 448.5h6M466 512.5h5M1285 394.5h3M1291 392.5h3M638 475.5h6M601 482.5h5M521 501.5h4M1237 411.5h2M1051 447.5h6M547 495.5h4M1210 421.5h3M1187 428.5h5M1231 413.5h3M591 484.5h5M675 470.5h10M1297 390.5h4M1221 417.5h2M611 480.5h5M1192 427.5h4M1248 407.5h3M571 488.5h5M997 455.5h9M553 493.5h3M429 519.5h8M1215 419.5h3M534 498.5h5M1175 431.5h4M386 527.5h5M1304 388.5h3M461 513.5h5M632 476.5h6M516 502.5h5M481 509.5h5M1254 405.5h3M391 526.5h5M411 522.5h5M1205 423.5h2M502 505.5h5M530 499.5h4M1242 409.5h3M1266 401.5h2M1332 378.5h2M1226 415.5h3M1282 395.5h3M1328 380.5h2M406 523.5h5M1153 435.5h6M1276 397.5h3M1288 393.5h3M543 496.5h4M1311 386.5h3M556 492.5h2M1218 418.5h3M507 504.5h4M1325 381.5h3M1200 425.5h2M1323 382.5h2M1274 398.5h2M1261 403.5h2M358.5 533v1" fill="none" stroke="#ff0000" stroke-width="1"/>
<path d="M706 386.5h6M748 386.5h6M1103 386.5h5M361 401.5h10M402 401.5h4M616 401.5h5M975 401.5h8M1060 401.5h3M305 419.5h3M507 419.5h7M515 419.5h14M191 440.5h5M661 394.5h5M848 394.5h12M1080 394.5h3M338 407.5h3M433 407.5h4M586 407.5h5M1003 407.5h31M328 410.5h3M446 410.5h4M571 410.5h5M371 400.5h31M621 400.5h6M915 400.5h26M966 400.5h9M1063 400.5h3M1329 259.5h2M654 395.5h7M860 395.5h20M1077 395.5h3M666 393.5h5M791 393.5h5M797 393.5h51M1083 393.5h2M308 418.5h3M501 418.5h6M529 418.5h6M687 389.5h7M764 389.5h8M1094 389.5h3M252 431.5h11M1148 376.5h5M627 399.5h7M900 399.5h15M941 399.5h25M1066 399.5h3M676 391.5h5M780 391.5h6M1088 391.5h3M213 436.5h6M207 437.5h6M701 387.5h5M754 387.5h5M1100 387.5h3M1197 358.5h2M634 398.5h7M894 398.5h6M1069 398.5h3M1289 293.5h2M351 403.5h3M410 403.5h7M606 403.5h5M988 403.5h4M1054 403.5h3M1128 380.5h3M1193 360.5h2M117 480.5h2M322 412.5h3M458 412.5h11M561 412.5h5M348 404.5h3M417 404.5h7M601 404.5h5M992 404.5h3M1049 404.5h5M1122 382.5h3M226 434.5h7M694 388.5h7M759 388.5h5M1097 388.5h3M315 415.5h2M490 415.5h4M546 415.5h5M160 455.5h2M319 413.5h3M469 413.5h13M556 413.5h5M288 425.5h4M179 445.5h2M102 490.5h2M344 405.5h4M424 405.5h5M596 405.5h5M995 405.5h3M1042 405.5h7M712 385.5h6M741 385.5h7M1108 385.5h5M1223 338.5h2M681 390.5h6M772 390.5h8M1091 390.5h3M354 402.5h7M406 402.5h4M611 402.5h5M983 402.5h5M1057 402.5h3M1184 364.5h3M83 503.5h2M127 474.5h2M311 417.5h2M498 417.5h3M535 417.5h6M334 408.5h4M437 408.5h4M581 408.5h5M317 414.5h2M482 414.5h8M551 414.5h5M239 432.5h13M171 449.5h2M1260 313.5h2M1187 363.5h2M1257 315.5h2M108 486.5h2M297 422.5h2M1233 331.5h2M341 406.5h3M429 406.5h4M591 406.5h5M998 406.5h5M1034 406.5h8M93 496.5h2M269 429.5h6M325 411.5h3M450 411.5h8M566 411.5h5M1282 298.5h2M294 423.5h3M647 396.5h7M880 396.5h7M1075 396.5h2M188 441.5h3M1135 378.5h6M1173 369.5h3M201 438.5h6M1216 343.5h2M1163 372.5h3M1263 311.5h2M114 482.5h2M1125 381.5h3M718 384.5h23M1113 384.5h5M99 492.5h2M641 397.5h6M887 397.5h7M1072 397.5h3M313 416.5h2M494 416.5h4M541 416.5h5M145 464.5h2M1153 375.5h3M1203 353.5h2M1249 320.5h2M1303 281.5h2M133 470.5h2M53 527.5h2M152 460.5h2M671 392.5h5M786 392.5h5M1085 392.5h3M169 450.5h2M135 469.5h2M331 409.5h3M441 409.5h5M576 409.5h5M284 426.5h4M1268 308.5h2M69 514.5h2M1195 359.5h2M1213 345.5h2M1191 361.5h2M219 435.5h7M181 444.5h2M177 446.5h2M141 466.5h2M1159 373.5h4M1182 365.5h2M74 510.5h2M125 475.5h2M1271 306.5h2M1255 316.5h2M196 439.5h5M292 424.5h2M1170 370.5h3M281 427.5h3M1131 379.5h4M1265 310.5h2M89 499.5h2M1323 264.5h2M1296 287.5h2M143 465.5h2M139 467.5h2M299 421.5h3M1275 303.5h2M122 477.5h2M1332 257.5h2M1180 366.5h2M1209 348.5h2M275 428.5h6M167 451.5h2M1309 276.5h2M263 430.5h6M186 442.5h2M59 522.5h2M1316 270.5h2M233 433.5h6M157 457.5h2M302 420.5h3M1166 371.5h4M105 488.5h2M1141 377.5h7M1239 327.5h2M1286 295.5h2M1189 362.5h2M1156 374.5h3M86 501.5h2M1118 383.5h4M175 447.5h2M96 494.5h2M163 453.5h2M1178 367.5h2M165 452.5h2M183 443.5h3M130 472.5h2M1279 300.5h2M79 506.5h2M149 462.5h2M1236 329.5h2M111 484.5h2M137 468.5h2M155 458.5h2M1246 322.5h2M1219 341.5h2M1252 318.5h2M1229 334.5h2M173 448.5h2M64 518.5h2M1243 324.5h2M119 479.5h2M1226 336.5h2M147 463.5h2M1176 368.5h2M92.5 497v1M1218.5 342v1M796.5 394v1M1299.5 285v1M1267.5 309v1M68.5 515v1M1251.5 319v1M48.5 532v1M1305.5 280v1M85.5 502v1M1207.5 350v1M1281.5 299v1M1242.5 325v1M1327.5 261v1M61.5 521v1M1298.5 286v1M1202.5 354v1M1248.5 321v1M1225.5 337v1M1313.5 273v1M47.5 533v1M1285.5 296v1M1231.5 333v1M82.5 504v1M1208.5 349v1M1320.5 267v1M1241.5 326v1M1288.5 294v1M162.5 454v1M1326.5 262v1M1295.5 288v1M77.5 508v1M1306.5 279v1M1201.5 355v1M110.5 485v1M55.5 526v1M1312.5 274v1M91.5 498v1M132.5 471v1M151.5 461v1M1292.5 291v1M116.5 481v1M1238.5 328v1M159.5 456v1M76.5 509v1M1311.5 275v1M1232.5 332v1M107.5 487v1M1200.5 356v1M52.5 528v1M1215.5 344v1M67.5 516v1M113.5 483v1M98.5 493v1M1199.5 357v1M73.5 511v1M514.5 420v1M1302.5 282v1M104.5 489v1M1278.5 301v1M1205.5 352v1M1325.5 263v1M66.5 517v1M1273.5 305v1M124.5 476v1M1245.5 323v1M1222.5 339v1M50.5 530v1M1307.5 278v1M1318.5 269v1M56.5 525v1M1262.5 312v1M63.5 519v1M1270.5 307v1M121.5 478v1M1293.5 290v1M71.5 513v1M1331.5 258v1M51.5 529v1M1308.5 277v1M1206.5 351v1M58.5 523v1M1315.5 271v1M49.5 531v1M88.5 500v1M1212.5 346v1M1259.5 314v1M1321.5 266v1M72.5 512v1M1328.5 260v1M1301.5 283v1M1228.5 335v1M81.5 505v1M1277.5 302v1M101.5 491v1M1211.5 347v1M57.5 524v1M1314.5 272v1M1294.5 289v1M95.5 495v1M1221.5 340v1M1291.5 292v1M1254.5 317v1M1300.5 284v1M129.5 473v1M78.5 507v1M1274.5 304v1M1235.5 330v1M1284.5 297v1M62.5 520v1M1322.5 265v1M154.5 459v1M1319.5 268v1" fill="none" stroke="#ff00ff" stroke-width="1"/>
<path d="M83 377.5h2M177 377.5h2M586 377.5h2M746 377.5h2M1223 237.5h2M417 411.5h6M476 411.5h4M544 411.5h2M807 411.5h13M24 435.5h2M260 435.5h3M328 435.5h4M883 435.5h2M975 435.5h6M1104 320.5h2M389 419.5h3M502 419.5h2M844 419.5h2M101 368.5h2M158 368.5h3M728 368.5h2M242 426.5h2M354 426.5h3M866 426.5h2M265 437.5h2M313 437.5h7M886 437.5h2M965 437.5h5M247 429.5h2M347 429.5h2M872 429.5h2M1001 429.5h3M1149 292.5h2M613 355.5h2M638 355.5h4M657 355.5h6M693 355.5h3M240 425.5h2M357 425.5h2M864 425.5h2M110 364.5h3M143 364.5h3M718 364.5h2M105 366.5h3M150 366.5h4M723 366.5h2M235 421.5h2M381 421.5h4M509 421.5h5M524 421.5h3M848 421.5h2M103 367.5h2M154 367.5h4M599 367.5h2M725 367.5h3M699 357.5h3M423 410.5h6M472 410.5h4M799 410.5h8M267 438.5h3M310 438.5h3M959 438.5h6M378 422.5h3M514 422.5h10M850 422.5h5M201 393.5h2M99 369.5h2M161 369.5h2M730 369.5h2M443 407.5h19M788 407.5h3M255 433.5h3M335 433.5h3M880 433.5h2M988 433.5h4M392 418.5h3M499 418.5h3M532 418.5h2M842 418.5h2M207 397.5h2M116 362.5h3M137 362.5h3M713 362.5h3M210 399.5h2M774 399.5h2M250 431.5h3M341 431.5h4M876 431.5h2M995 431.5h4M618 353.5h15M670 353.5h7M687 353.5h3M1181 265.5h2M1254 214.5h2M85 376.5h2M744 376.5h2M78 380.5h2M182 380.5h2M751 380.5h2M412 412.5h5M480 412.5h3M542 412.5h2M820 412.5h6M705 359.5h3M97 370.5h2M163 370.5h3M732 370.5h2M1131 305.5h2M263 436.5h2M320 436.5h8M970 436.5h5M275 441.5h4M303 441.5h2M892 441.5h2M946 441.5h3M359 424.5h8M860 424.5h4M1325 147.5h2M193 388.5h2M270 439.5h2M308 439.5h2M889 439.5h2M954 439.5h5M204 395.5h2M408 413.5h4M483 413.5h4M826 413.5h5M677 352.5h10M367 423.5h11M855 423.5h5M1233 230.5h2M89 374.5h2M172 374.5h2M740 374.5h2M1207 249.5h2M76 381.5h2M753 381.5h2M230 417.5h2M395 417.5h3M496 417.5h3M534 417.5h2M840 417.5h2M215 403.5h2M780 403.5h2M1110 317.5h2M91 373.5h2M170 373.5h2M738 373.5h2M122 360.5h11M708 360.5h3M1269 202.5h2M258 434.5h2M332 434.5h3M981 434.5h7M1194 256.5h2M113 363.5h3M140 363.5h3M716 363.5h2M385 420.5h4M504 420.5h5M527 420.5h4M846 420.5h2M1095 326.5h2M784 406.5h4M1112 316.5h2M93 372.5h2M168 372.5h2M736 372.5h2M574 386.5h2M436 408.5h7M462 408.5h5M549 408.5h2M791 408.5h3M198 391.5h2M398 416.5h3M493 416.5h3M838 416.5h2M761 387.5h2M1249 218.5h2M1199 253.5h2M108 365.5h2M146 365.5h4M720 365.5h3M1330 143.5h2M245 428.5h2M349 428.5h3M870 428.5h2M1004 428.5h3M1139 300.5h2M615 354.5h3M633 354.5h5M663 354.5h7M690 354.5h3M756 383.5h2M272 440.5h3M305 440.5h3M949 440.5h5M283 443.5h7M295 443.5h6M896 443.5h2M940 443.5h3M33 427.5h2M352 427.5h2M868 427.5h2M119 361.5h3M133 361.5h4M711 361.5h2M81 378.5h2M179 378.5h2M748 378.5h2M290 444.5h5M898 444.5h2M938 444.5h2M900 445.5h2M935 445.5h3M1120 312.5h2M564 394.5h2M253 432.5h2M338 432.5h3M878 432.5h2M992 432.5h3M189 385.5h2M611 356.5h2M642 356.5h15M696 356.5h3M569 390.5h2M904 447.5h3M930 447.5h3M1239 226.5h2M185 382.5h2M579 382.5h2M1176 268.5h2M1214 244.5h2M912 449.5h16M583 379.5h2M429 409.5h7M467 409.5h5M547 409.5h2M794 409.5h5M1025 409.5h2M1197 254.5h2M1244 222.5h2M87 375.5h2M174 375.5h2M589 375.5h2M742 375.5h2M1282 189.5h2M345 430.5h2M874 430.5h2M999 430.5h2M1144 296.5h2M195 389.5h2M95 371.5h2M166 371.5h2M594 371.5h2M734 371.5h2M1209 248.5h2M1205 250.5h2M1126 308.5h2M907 448.5h5M928 448.5h2M401 415.5h3M490 415.5h3M537 415.5h2M836 415.5h2M777 401.5h2M404 414.5h4M487 414.5h3M539 414.5h2M831 414.5h5M279 442.5h4M301 442.5h2M894 442.5h2M943 442.5h3M1128 307.5h2M1173 270.5h2M1137 301.5h2M1102 321.5h2M1229 233.5h2M1189 259.5h2M702 358.5h3M1259 210.5h2M1185 262.5h2M1134 303.5h2M1171 271.5h2M1118 313.5h2M1108 318.5h2M902 446.5h2M933 446.5h2M1168 273.5h2M1114 315.5h2M1116 314.5h2M1179 266.5h2M1203 251.5h2M1236 228.5h2M1157 285.5h2M1219 240.5h2M1099 323.5h2M1123 310.5h2M1201 252.5h2M1106 319.5h2M1226 235.5h2M1264 206.5h2M1192 257.5h2M1049.5 377v1M1290.5 182v1M48.5 411v1M224.5 411v1M1023.5 411v1M41.5 419v1M233.5 419v1M531.5 419v1M1015.5 419v1M598.5 368v1M1056.5 367v2M34.5 426v1M1008.5 426v1M1311.5 161v1M22.5 437v1M31.5 429v1M1067.5 355v1M35.5 425v1M1009.5 425v1M603.5 364v1M1059.5 364v1M601.5 366v1M1057.5 366v1M39.5 421v1M1013.5 421v1M610.5 357v1M1066.5 356v2M49.5 410v1M223.5 410v1M546.5 410v1M1024.5 410v1M21.5 438v1M888.5 438v1M38.5 422v1M237.5 422v1M1012.5 422v1M64.5 393v1M566.5 393v1M768.5 393v1M1038.5 392v2M597.5 369v1M1055.5 369v1M51.5 407v1M220.5 407v1M551.5 407v1M1027.5 407v1M27.5 433v1M42.5 418v1M232.5 418v1M1016.5 418v1M1297.5 175v1M60.5 397v1M561.5 397v1M772.5 397v1M1035.5 397v1M605.5 362v1M1061.5 362v1M58.5 399v1M559.5 399v1M1033.5 399v2M1232.5 231v1M29.5 431v1M1069.5 353v1M59.5 398v1M209.5 398v1M560.5 398v1M773.5 398v1M1034.5 398v1M1318.5 154v1M176.5 376v1M588.5 376v1M1050.5 376v1M582.5 380v1M1047.5 380v1M47.5 412v1M225.5 412v1M1022.5 412v1M608.5 359v1M1064.5 359v1M596.5 370v1M1054.5 370v2M1154.5 288v1M23.5 436v1M885.5 436v1M1266.5 205v1M1304.5 168v1M18.5 441v1M36.5 424v1M239.5 424v1M1010.5 424v1M1076.5 345v2M69.5 388v1M572.5 388v1M763.5 388v1M1041.5 388v2M20.5 439v1M62.5 395v1M563.5 395v1M770.5 395v1M1036.5 395v2M1211.5 247v1M46.5 413v1M226.5 413v1M541.5 413v1M1021.5 413v1M1070.5 352v1M37.5 423v1M238.5 423v1M1011.5 423v1M591.5 374v1M1051.5 374v2M1316.5 156v1M184.5 381v1M581.5 381v1M1046.5 381v2M43.5 416v2M1017.5 417v1M55.5 402v2M555.5 403v1M1030.5 403v1M592.5 373v1M1052.5 373v1M607.5 360v1M1063.5 360v1M1133.5 304v1M73.5 384v1M188.5 384v1M577.5 384v1M758.5 384v1M1044.5 384v2M26.5 434v1M882.5 434v1M1323.5 149v1M1242.5 224v1M1191.5 258v1M604.5 363v1M1060.5 363v1M40.5 420v1M234.5 420v1M1014.5 420v1M52.5 406v1M219.5 406v1M552.5 406v1M1028.5 406v1M593.5 372v1M1053.5 372v1M71.5 386v1M191.5 386v1M760.5 386v1M1043.5 386v1M50.5 408v2M221.5 408v1M1026.5 408v1M66.5 391v1M568.5 391v1M766.5 391v1M1039.5 391v1M229.5 416v1M536.5 416v1M1018.5 416v1M70.5 387v1M192.5 387v1M573.5 387v1M1042.5 387v1M602.5 365v1M1058.5 365v1M32.5 428v1M1217.5 242v1M1284.5 188v1M1299.5 173v1M214.5 402v1M556.5 402v1M779.5 402v1M1031.5 402v1M1068.5 354v1M74.5 383v1M187.5 383v1M578.5 383v1M1045.5 383v1M61.5 396v1M206.5 396v1M562.5 396v1M771.5 396v1M19.5 440v1M891.5 440v1M7.5 452v2M1225.5 236v1M16.5 443v1M244.5 427v1M1007.5 427v1M606.5 361v1M1062.5 361v1M585.5 378v1M1048.5 378v2M1101.5 322v1M15.5 444v1M1147.5 294v1M1303.5 169v1M14.5 445v1M1310.5 162v1M63.5 394v1M203.5 394v1M769.5 394v1M1037.5 394v1M1263.5 207v1M1231.5 232v1M28.5 432v1M1317.5 155v1M72.5 385v1M576.5 385v1M759.5 385v1M1270.5 201v1M1130.5 306v1M1080.5 341v1M67.5 390v1M197.5 390v1M765.5 390v1M1040.5 390v1M1075.5 347v1M12.5 447v1M1188.5 260v1M1277.5 194v1M75.5 382v1M755.5 382v1M57.5 400v1M212.5 400v1M558.5 400v1M776.5 400v1M1087.5 334v1M53.5 405v1M218.5 405v1M553.5 405v1M783.5 405v1M1029.5 404v2M1328.5 145v1M1241.5 225v1M1281.5 190v1M1136.5 302v1M10.5 449v1M80.5 379v1M181.5 379v1M750.5 379v1M222.5 409v1M1222.5 238v1M65.5 392v1M200.5 392v1M567.5 392v1M767.5 392v1M30.5 430v1M249.5 430v1M1256.5 213v1M1295.5 177v1M1183.5 264v1M68.5 389v1M571.5 389v1M764.5 389v1M1146.5 295v1M1302.5 170v1M54.5 404v1M217.5 404v1M554.5 404v1M782.5 404v1M1159.5 283v1M1309.5 163v1M1165.5 276v1M1262.5 208v1M11.5 448v1M44.5 415v1M228.5 415v1M1019.5 415v1M56.5 401v1M213.5 401v1M557.5 401v1M1032.5 401v1M45.5 414v1M227.5 414v1M1020.5 414v1M17.5 442v1M1079.5 342v1M1285.5 187v1M1238.5 227v1M8.5 451v1M1289.5 183v1M1246.5 221v1M1253.5 215v1M1296.5 176v1M1143.5 297v1M1261.5 209v1M1315.5 157v1M1081.5 340v1M1151.5 291v1M609.5 358v1M1065.5 358v1M1166.5 275v1M1073.5 349v1M1322.5 150v1M1088.5 333v1M1158.5 284v1M1085.5 336v1M1267.5 204v1M1216.5 243v1M1092.5 329v1M1196.5 255v1M1288.5 184v1M1252.5 216v1M1307.5 165v1M1074.5 348v1M1314.5 158v1M1077.5 344v1M1072.5 350v1M1321.5 151v1M1213.5 245v1M1162.5 279v2M1274.5 197v1M1084.5 337v1M13.5 446v1M1247.5 220v1M1091.5 330v1M1278.5 193v1M1294.5 178v1M1098.5 324v1M1301.5 171v1M1152.5 290v1M1308.5 164v1M1164.5 277v1M1320.5 152v1M1257.5 212v1M1086.5 335v1M1156.5 286v1M1268.5 203v1M1093.5 328v1M1275.5 196v1M1329.5 144v1M1170.5 272v1M1212.5 246v1M1279.5 192v1M1178.5 267v1M6.5 454v1M1286.5 186v1M1142.5 298v1M9.5 450v1M1293.5 179v1M5.5 455v2M1300.5 172v1M1258.5 211v1M1078.5 343v1M1163.5 278v1M1319.5 153v1M1155.5 287v1M1082.5 339v1M1167.5 274v1M1089.5 332v1M1271.5 200v1M1243.5 223v1M1287.5 185v1M1228.5 234v1M1251.5 217v1M1306.5 166v1M1141.5 299v1M1313.5 159v1M1148.5 293v1M1125.5 309v1M1187.5 261v1M1071.5 351v1M1161.5 281v1M1273.5 198v1M1083.5 338v1M1327.5 146v1M1280.5 191v1M1221.5 239v1M1097.5 325v1M1333.5 141v1M1291.5 181v1M1248.5 219v1M1298.5 174v1M1305.5 167v1M1122.5 311v1M1235.5 229v1M1184.5 263v1M1312.5 160v1M1153.5 289v1M1324.5 148v1M1090.5 331v1M1160.5 282v1M1272.5 199v1M1332.5 142v1M1218.5 241v1M1094.5 327v1M1276.5 195v1M1292.5 180v1M1175.5 269v1" fill="none" stroke="#ffa500" stroke-width="1"/>
<rect x="5" y="65" width="1667" height="1" fill="#778899"/>
<rect x="5" y="84" width="1667" height="2" fill="#00ff7f"/>
<rect x="5" y="150" width="1667" height="2" fill="#4169e1"/>
<rect x="5" y="216" width="1667" height="2" fill="#4169e1"/>
<rect x="4" y="82" width="6" height="6" fill="#00ff7f"/>
<rect x="6" y="84" width="2" height="2" fill="#fff"/>
<rect x="1666" y="82" width="6" height="6" fill="#00ff7f"/>
<rect x="1668" y="84" width="2" height="2" fill="#fff"/>
<rect x="4" y="148" width="6" height="6" fill="#4169e1"/>
<rect x="6" y="150" width="2" height="2" fill="#fff"/>
<rect x="1666" y="148" width="6" height="6" fill="#4169e1"/>
<rect x="1668" y="150" width="2" height="2" fill="#fff"/>
<path d="M1333 39 L1343 39 L1338 44.5 Z" fill="#778899" shape-rendering="auto"/>
<rect x="13" y="546" width="1" height="67" fill="#c0c0c0"/>
<rect x="21" y="547" width="1" height="66" fill="#c0c0c0"/>
<rect x="29" y="548" width="1" height="65" fill="#c0c0c0"/>
<rect x="37" y="549" width="1" height="64" fill="#c0c0c0"/>
<rect x="45" y="551" width="1" height="62" fill="#c0c0c0"/>
<rect x="53" y="551" width="1" height="62" fill="#c0c0c0"/>
<rect x="61" y="552" width="1" height="61" fill="#c0c0c0"/>
<rect x="69" y="555" width="1" height="58" fill="#c0c0c0"/>
<rect x="77" y="561" width="1" height="52" fill="#c0c0c0"/>
<rect x="85" y="571" width="1" height="42" fill="#c0c0c0"/>
<rect x="93" y="576" width="1" height="37" fill="#c0c0c0"/>
<rect x="101" y="582" width="1" height="31" fill="#c0c0c0"/>
<rect x="109" y="587" width="1" height="26" fill="#c0c0c0"/>
<rect x="117" y="589" width="1" height="24" fill="#c0c0c0"/>
<rect x="125" y="590" width="1" height="23" fill="#c0c0c0"/>
<rect x="133" y="592" width="1" height="21" fill="#c0c0c0"/>
<rect x="141" y="599" width="1" height="14" fill="#c0c0c0"/>
<rect x="149" y="602" width="1" height="11" fill="#c0c0c0"/>
<rect x="157" y="602" width="1" height="11" fill="#c0c0c0"/>
<rect x="165" y="605" width="1" height="8" fill="#c0c0c0"/>
<rect x="173" y="609" width="1" height="4" fill="#c0c0c0"/>
<rect x="189" y="612" width="1" height="6" fill="#c0c0c0"/>
<rect x="197" y="612" width="1" height="11" fill="#c0c0c0"/>
<rect x="205" y="612" width="1" height="15" fill="#c0c0c0"/>
<rect x="213" y="612" width="1" height="16" fill="#c0c0c0"/>
<rect x="221" y="612" width="1" height="20" fill="#c0c0c0"/>
<rect x="229" y="612" width="1" height="27" fill="#c0c0c0"/>
<rect x="237" y="612" width="1" height="26" fill="#c0c0c0"/>
<rect x="245" y="612" width="1" height="27" fill="#c0c0c0"/>
<rect x="253" y="612" width="1" height="29" fill="#c0c0c0"/>
<rect x="261" y="612" width="1" height="28" fill="#c0c0c0"/>
<rect x="269" y="612" width="1" height="27" fill="#c0c0c0"/>
<rect x="277" y="612" width="1" height="23" fill="#c0c0c0"/>
<rect x="285" y="612" width="1" height="17" fill="#c0c0c0"/>
<rect x="293" y="612" width="1" height="9" fill="#c0c0c0"/>
<rect x="301" y="610" width="1" height="3" fill="#c0c0c0"/>
<rect x="309" y="603" width="1" height="10" fill="#c0c0c0"/>
<rect x="317" y="598" width="1" height="15" fill="#c0c0c0"/>
<rect x="325" y="595" width="1" height="18" fill="#c0c0c0"/>
<rect x="333" y="594" width="1" height="19" fill="#c0c0c0"/>
<rect x="341" y="595" width="1" height="18" fill="#c0c0c0"/>
<rect x="349" y="594" width="1" height="19" fill="#c0c0c0"/>
<rect x="357" y="594" width="1" height="19" fill="#c0c0c0"/>
<rect x="365" y="597" width="1" height="16" fill="#c0c0c0"/>
<rect x="373" y="604" width="1" height="9" fill="#c0c0c0"/>
<rect x="381" y="608" width="1" height="5" fill="#c0c0c0"/>
<rect x="389" y="612" width="1" height="1" fill="#c0c0c0"/>
<rect x="397" y="612" width="1" height="2" fill="#c0c0c0"/>
<rect x="405" y="612" width="1" height="3" fill="#c0c0c0"/>
<rect x="413" y="612" width="1" height="5" fill="#c0c0c0"/>
<rect x="421" y="612" width="1" height="7" fill="#c0c0c0"/>
<rect x="429" y="612" width="1" height="9" fill="#c0c0c0"/>
<rect x="437" y="612" width="1" height="9" fill="#c0c0c0"/>
<rect x="445" y="612" width="1" height="10" fill="#c0c0c0"/>
<rect x="453" y="612" width="1" height="6" fill="#c0c0c0"/>
<rect x="461" y="612" width="1" height="1" fill="#c0c0c0"/>
<rect x="469" y="610" width="1" height="3" fill="#c0c0c0"/>
<rect x="477" y="608" width="1" height="5" fill="#c0c0c0"/>
<rect x="485" y="607" width="1" height="6" fill="#c0c0c0"/>
<rect x="493" y="609" width="1" height="4" fill="#c0c0c0"/>
<rect x="501" y="611" width="1" height="2" fill="#c0c0c0"/>
<rect x="509" y="611" width="1" height="2" fill="#c0c0c0"/>
<rect x="517" y="611" width="1" height="2" fill="#c0c0c0"/>
<rect x="525" y="608" width="1" height="5" fill="#c0c0c0"/>
<rect x="533" y="602" width="1" height="11" fill="#c0c0c0"/>
<rect x="541" y="595" width="1" height="18" fill="#c0c0c0"/>
<rect x="549" y="590" width="1" height="23" fill="#c0c0c0"/>
<rect x="557" y="582" width="1" height="31" fill="#c0c0c0"/>
<rect x="565" y="578" width="1" height="35" fill="#c0c0c0"/>
<rect x="573" y="575" width="1" height="38" fill="#c0c0c0"/>
<rect x="581" y="575" width="1" height="38" fill="#c0c0c0"/>
<rect x="589" y="577" width="1" height="36" fill="#c0c0c0"/>
<rect x="597" y="576" width="1" height="37" fill="#c0c0c0"/>
<rect x="605" y="574" width="1" height="39" fill="#c0c0c0"/>
<rect x="613" y="577" width="1" height="36" fill="#c0c0c0"/>
<rect x="621" y="585" width="1" height="28" fill="#c0c0c0"/>
<rect x="629" y="594" width="1" height="19" fill="#c0c0c0"/>
<rect x="637" y="602" width="1" height="11" fill="#c0c0c0"/>
<rect x="645" y="608" width="1" height="5" fill="#c0c0c0"/>
<rect x="661" y="612" width="1" height="3" fill="#c0c0c0"/>
<rect x="669" y="612" width="1" height="6" fill="#c0c0c0"/>
<rect x="677" y="612" width="1" height="9" fill="#c0c0c0"/>
<rect x="685" y="612" width="1" height="10" fill="#c0c0c0"/>
<rect x="693" y="612" width="1" height="13" fill="#c0c0c0"/>
<rect x="701" y="612" width="1" height="12" fill="#c0c0c0"/>
<rect x="709" y="612" width="1" height="11" fill="#c0c0c0"/>
<rect x="717" y="612" width="1" height="8" fill="#c0c0c0"/>
<rect x="725" y="612" width="1" height="3" fill="#c0c0c0"/>
<rect x="733" y="612" width="1" height="2" fill="#c0c0c0"/>
<rect x="741" y="612" width="1" height="3" fill="#c0c0c0"/>
<rect x="749" y="612" width="1" height="7" fill="#c0c0c0"/>
<rect x="757" y="612" width="1" height="8" fill="#c0c0c0"/>
<rect x="765" y="612" width="1" height="15" fill="#c0c0c0"/>
<rect x="773" y="612" width="1" height="20" fill="#c0c0c0"/>
<rect x="781" y="612" width="1" height="22" fill="#c0c0c0"/>
<rect x="789" y="612" width="1" height="22" fill="#c0c0c0"/>
<rect x="797" y="612" width="1" height="22" fill="#c0c0c0"/>
<rect x="805" y="612" width="1" height="21" fill="#c0c0c0"/>
<rect x="813" y="612" width="1" height="19" fill="#c0c0c0"/>
<rect x="821" y="612" width="1" height="18" fill="#c0c0c0"/>
<rect x="829" y="612" width="1" height="18" fill="#c0c0c0"/>
<rect x="837" y="612" width="1" height="18" fill="#c0c0c0"/>
<rect x="845" y="612" width="1" height="21" fill="#c0c0c0"/>
<rect x="853" y="612" width="1" height="25" fill="#c0c0c0"/>
<rect x="861" y="612" width="1" height="25" fill="#c0c0c0"/>
<rect x="869" y="612" width="1" height="26" fill="#c0c0c0"/>
<rect x="877" y="612" width="1" height="26" fill="#c0c0c0"/>
<rect x="885" y="612" width="1" height="24" fill="#c0c0c0"/>
<rect x="893" y="612" width="1" height="24" fill="#c0c0c0"/>
<rect x="901" y="612" width="1" height="22" fill="#c0c0c0"/>
<rect x="909" y="612" width="1" height="19" fill="#c0c0c0"/>
<rect x="917" y="612" width="1" height="15" fill="#c0c0c0"/>
<rect x="925" y="612" width="1" height="11" fill="#c0c0c0"/>
<rect x="933" y="612" width="1" height="5" fill="#c0c0c0"/>
<rect x="941" y="612" width="1" height="2" fill="#c0c0c0"/>
<rect x="949" y="612" width="1" height="1" fill="#c0c0c0"/>
<rect x="957" y="610" width="1" height="3" fill="#c0c0c0"/>
<rect x="965" y="608" width="1" height="5" fill="#c0c0c0"/>
<rect x="973" y="606" width="1" height="7" fill="#c0c0c0"/>
<rect x="981" y="605" width="1" height="8" fill="#c0c0c0"/>
<rect x="989" y="604" width="1" height="9" fill="#c0c0c0"/>
<rect x="997" y="604" width="1" height="9" fill="#c0c0c0"/>
<rect x="1005" y="599" width="1" height="14" fill="#c0c0c0"/>
<rect x="1013" y="592" width="1" height="21" fill="#c0c0c0"/>
<rect x="1021" y="587" width="1" height="26" fill="#c0c0c0"/>
<rect x="1029" y="582" width="1" height="31" fill="#c0c0c0"/>
<rect x="1037" y="572" width="1" height="41" fill="#c0c0c0"/>
<rect x="1045" y="565" width="1" height="48" fill="#c0c0c0"/>
<rect x="1053" y="559" width="1" height="54" fill="#c0c0c0"/>
<rect x="1061" y="557" width="1" height="56" fill="#c0c0c0"/>
<rect x="1069" y="555" width="1" height="58" fill="#c0c0c0"/>
<rect x="1077" y="554" width="1" height="59" fill="#c0c0c0"/>
<rect x="1085" y="553" width="1" height="60" fill="#c0c0c0"/>
<rect x="1093" y="555" width="1" height="58" fill="#c0c0c0"/>
<rect x="1101" y="559" width="1" height="54" fill="#c0c0c0"/>
<rect x="1109" y="567" width="1" height="46" fill="#c0c0c0"/>
<rect x="1117" y="572" width="1" height="41" fill="#c0c0c0"/>
<rect x="1125" y="576" width="1" height="37" fill="#c0c0c0"/>
<rect x="1133" y="579" width="1" height="34" fill="#c0c0c0"/>
<rect x="1141" y="582" width="1" height="31" fill="#c0c0c0"/>
<rect x="1149" y="583" width="1" height="30" fill="#c0c0c0"/>
<rect x="1157" y="583" width="1" height="30" fill="#c0c0c0"/>
<rect x="1165" y="578" width="1" height="35" fill="#c0c0c0"/>
<rect x="1173" y="579" width="1" height="34" fill="#c0c0c0"/>
<rect x="1181" y="575" width="1" height="38" fill="#c0c0c0"/>
<rect x="1189" y="571" width="1" height="42" fill="#c0c0c0"/>
<rect x="1197" y="569" width="1" height="44" fill="#c0c0c0"/>
<rect x="1205" y="566" width="1" height="47" fill="#c0c0c0"/>
<rect x="1213" y="558" width="1" height="55" fill="#c0c0c0"/>
<rect x="1221" y="553" width="1" height="60" fill="#c0c0c0"/>
<rect x="1229" y="551" width="1" height="62" fill="#c0c0c0"/>
<rect x="1237" y="550" width="1" height="63" fill="#c0c0c0"/>
<rect x="1245" y="547" width="1" height="66" fill="#c0c0c0"/>
<rect x="1253" y="550" width="1" height="63" fill="#c0c0c0"/>
<rect x="1261" y="550" width="1" height="63" fill="#c0c0c0"/>
<rect x="1269" y="551" width="1" height="62" fill="#c0c0c0"/>
<rect x="1277" y="554" width="1" height="59" fill="#c0c0c0"/>
<rect x="1285" y="559" width="1" height="54" fill="#c0c0c0"/>
<rect x="1293" y="561" width="1" height="52" fill="#c0c0c0"/>
<rect x="1301" y="562" width="1" height="51" fill="#c0c0c0"/>
<rect x="1309" y="564" width="1" height="49" fill="#c0c0c0"/>
<rect x="1317" y="565" width="1" height="48" fill="#c0c0c0"/>
<rect x="1325" y="565" width="1" height="48" fill="#c0c0c0"/>
<rect x="1333" y="562" width="1" height="51" fill="#c0c0c0"/>
<path d="M438 614.5h2M491 614.5h3M695 614.5h3M978 614.5h2M263 633.5h2M851 633.5h3M857 633.5h3M863 633.5h3M869 633.5h3M875 633.5h3M923 633.5h3M96 557.5h2M1107 557.5h2M1112 557.5h3M1249 557.5h3M1321 557.5h2M317 623.5h2M785 623.5h3M953 623.5h3M473 616.5h3M479 616.5h2M702 616.5h2M83 551.5h2M1272 551.5h2M1285 551.5h2M1290 551.5h2M269 635.5h3M893 635.5h3M911 635.5h3M90 554.5h2M1261 554.5h3M1308 554.5h3M1082 565.5h2M1232 565.5h2M774 621.5h2M959 621.5h3M251 629.5h2M306 629.5h2M810 629.5h2M936 629.5h2M1077 568.5h2M1148 568.5h2M215 613.5h3M497 613.5h3M275 636.5h3M281 636.5h3M287 636.5h3M900 636.5h2M905 636.5h3M132 576.5h2M1196 576.5h3M1202 576.5h2M198 606.5h2M539 606.5h3M1001 606.5h3M354 601.5h2M401 601.5h2M557 601.5h2M1019 601.5h2M1130 561.5h2M587 587.5h2M1047 587.5h2M611 577.5h3M617 577.5h3M623 577.5h3M1173 577.5h2M1178 577.5h3M1184 577.5h3M1190 577.5h3M192 603.5h2M407 603.5h2M551 603.5h2M366 597.5h2M383 597.5h3M29 548.5h3M35 548.5h3M41 548.5h3M47 548.5h3M53 548.5h3M59 548.5h3M65 548.5h3M71 548.5h3M108 563.5h2M1136 563.5h2M293 634.5h3M881 634.5h3M887 634.5h3M917 634.5h3M245 627.5h3M803 627.5h3M942 627.5h2M23 550.5h2M1278 550.5h3M77 549.5h3M299 632.5h2M827 632.5h3M833 632.5h3M839 632.5h3M845 632.5h3M929 632.5h2M965 619.5h3M1013 602.5h3M714 620.5h2M719 620.5h3M725 620.5h3M731 620.5h3M737 620.5h3M743 620.5h3M749 620.5h3M755 620.5h3M761 620.5h3M767 620.5h3M371 596.5h3M377 596.5h3M569 596.5h2M1031 596.5h2M222 615.5h2M330 615.5h2M443 615.5h3M485 615.5h3M450 617.5h2M455 617.5h3M467 617.5h3M971 617.5h2M18 552.5h2M1267 552.5h2M1296 552.5h2M180 598.5h2M390 598.5h2M564 598.5h2M1026 598.5h2M156 589.5h2M654 589.5h2M534 607.5h2M150 586.5h2M648 586.5h2M1065 575.5h2M1167 575.5h2M1101 558.5h2M1118 558.5h3M1326 558.5h3M173 595.5h2M665 595.5h2M5 559.5h2M1124 559.5h2M1244 559.5h2M1332 559.5h2M144 583.5h2M642 583.5h2M1070 572.5h2M1214 572.5h2M204 609.5h2M521 609.5h3M527 609.5h3M257 631.5h2M821 631.5h3M1302 553.5h3M167 593.5h3M575 593.5h2M1036 593.5h2M815 630.5h3M185 600.5h3M359 600.5h2M425 610.5h3M515 610.5h3M989 610.5h2M593 584.5h2M126 573.5h2M1160 573.5h3M335 612.5h2M431 612.5h3M503 612.5h3M983 612.5h3M581 590.5h2M1042 590.5h2M234 622.5h2M780 622.5h2M395 599.5h2M12 555.5h2M1255 555.5h3M1315 555.5h2M1088 562.5h2M1237 562.5h2M137 579.5h2M605 579.5h2M341 608.5h2M420 608.5h2M995 608.5h3M162 592.5h2M660 592.5h2M1155 571.5h2M102 560.5h2M1094 560.5h2M1226 567.5h2M413 605.5h2M1221 569.5h2M635 580.5h3M209 611.5h2M509 611.5h3M347 604.5h2M546 604.5h2M1007 604.5h3M1143 566.5h2M629 578.5h3M1060 578.5h2M600 581.5h2M1208 574.5h2M227 618.5h2M461 618.5h2M707 618.5h2M240 625.5h2M797 625.5h2M948 625.5h2M791 624.5h3M312 626.5h2M120 570.5h2M221.5 614v1M329.5 616v1M449.5 616v1M973.5 616v1M899.5 635v1M1314.5 554v1M113.5 565v1M1142.5 565v1M233.5 621v1M779.5 621v1M437.5 613v1M1064.5 576v1M1172.5 576v1M415.5 606v1M683.5 606v1M1090.5 561v1M1239.5 561v1M349.5 603v1M678.5 603v1M179.5 597v1M389.5 597v1M265.5 634v1M311.5 627v1M1274.5 550v1M1284.5 550v1M161.5 591v1M659.5 591v1M1042.5 591v1M25.5 549v1M259.5 632v1M229.5 619v1M324.5 619v1M709.5 619v1M713.5 619v1M191.5 602v1M353.5 602v1M403.5 602v1M553.5 602v1M677.5 602v1M323.5 620v1M773.5 620v1M175.5 596v1M667.5 596v1M481.5 615v1M701.5 615v1M977.5 615v1M463.5 617v1M85.5 552v1M1292.5 552v1M365.5 598v1M671.5 598v1M583.5 589v1M149.5 585v1M647.5 585v1M343.5 607v1M419.5 607v1M684.5 607v1M589.5 586v1M1049.5 586v1M131.5 575v1M1204.5 575v1M7.5 558v1M1106.5 558v1M571.5 595v1M1032.5 595v1M101.5 559v1M1096.5 559v1M1100.5 559v1M595.5 583v1M1054.5 583v1M125.5 572v1M991.5 609v1M301.5 631v1M931.5 631v1M1084.5 564v1M1138.5 564v1M1233.5 564v1M17.5 553v1M89.5 553v1M1266.5 553v1M1298.5 553v1M253.5 630v1M305.5 630v1M935.5 630v1M397.5 600v1M559.5 600v1M673.5 600v1M1021.5 600v1M689.5 610v1M1053.5 584v1M1210.5 573v1M211.5 612v1M691.5 612v1M319.5 622v1M361.5 599v1M563.5 599v1M672.5 599v1M1025.5 599v1M107.5 562v1M1132.5 562v1M1059.5 579v1M809.5 628v1M941.5 628v1M203.5 608v1M533.5 608v1M685.5 608v1M577.5 592v1M1038.5 592v1M155.5 588v1M653.5 588v1M1072.5 571v1M1216.5 571v1M1126.5 560v1M1243.5 560v1M115.5 567v1M197.5 605v1M545.5 605v1M119.5 569v1M1076.5 569v1M1150.5 569v1M139.5 580v1M337.5 611v1M690.5 611v1M409.5 604v1M679.5 604v1M114.5 566v1M1228.5 566v1M607.5 578v1M1166.5 574v1M325.5 618v1M239.5 624v1M11.5 556v1M95.5 556v1M1320.5 556v1M799.5 626v1M947.5 626v1M143.5 582v1M599.5 582v1M641.5 582v1M1055.5 582v1M1154.5 570v1M1220.5 570v1" fill="none" stroke="#ff0000" stroke-width="1"/>
<line x1="6" y1="681.5" x2="1671" y2="681.5" stroke="#c0c0c0" stroke-dasharray="3 3"/>
<line x1="6" y1="724.5" x2="1671" y2="724.5" stroke="#c0c0c0" stroke-dasharray="3 3"/>
<path d="M186 711.5h2M207 711.5h4M245 711.5h5M255 711.5h3M633 711.5h3M641 711.5h8M666 711.5h13M688 711.5h2M786 711.5h2M880 711.5h2M890 711.5h2M895 711.5h2M35 688.5h2M38 688.5h3M304 688.5h2M531 688.5h2M598 688.5h2M1155 688.5h3M1255 688.5h3M1300 688.5h3M1318 688.5h4M93 700.5h3M112 700.5h2M280 700.5h2M487 700.5h2M915 700.5h2M1110 700.5h3M321 693.5h6M461 693.5h6M937 693.5h2M975 693.5h4M984 693.5h5M1144 693.5h2M1288 693.5h2M291 694.5h2M327 694.5h3M459 694.5h2M467 694.5h8M724 694.5h2M939 694.5h2M963 694.5h12M989 694.5h2M1142 694.5h2M1173 694.5h2M1283 694.5h2M1286 694.5h2M86 704.5h2M165 704.5h2M507 704.5h7M701 704.5h5M737 704.5h2M28 684.5h2M48 684.5h3M56 684.5h2M540 684.5h5M569 684.5h6M1095 684.5h2M1201 684.5h3M1330 684.5h2M114 699.5h2M155 699.5h2M158 699.5h2M282 699.5h2M716 699.5h2M917 699.5h2M1113 699.5h2M172 707.5h4M237 707.5h2M380 707.5h6M400 707.5h2M412 707.5h6M434 707.5h2M442 707.5h4M623 707.5h2M743 707.5h2M807 707.5h3M817 707.5h3M296 690.5h2M307 690.5h2M526 690.5h2M584 690.5h2M593 690.5h2M1151 690.5h2M1277 690.5h2M1294 690.5h3M1307 690.5h6M32 686.5h2M43 686.5h3M61 686.5h4M535 686.5h3M576 686.5h2M602 686.5h2M1099 686.5h2M1195 686.5h4M1260 686.5h5M1270 686.5h2M1326 686.5h2M41 687.5h2M65 687.5h5M302 687.5h2M533 687.5h2M578 687.5h2M600 687.5h2M1258 687.5h2M1272 687.5h2M1322 687.5h4M554 681.5h2M559 681.5h2M167 705.5h3M404 705.5h4M493 705.5h6M503 705.5h4M514 705.5h4M706 705.5h4M739 705.5h2M907 705.5h2M89 702.5h2M100 702.5h10M162 702.5h2M276 702.5h2M733 702.5h2M143 708.5h2M176 708.5h4M239 708.5h2M266 708.5h4M378 708.5h2M386 708.5h8M398 708.5h2M418 708.5h6M432 708.5h2M625 708.5h2M745 708.5h2M803 708.5h4M820 708.5h6M902 708.5h2M146 706.5h2M170 706.5h2M271 706.5h2M402 706.5h2M408 706.5h4M436 706.5h6M499 706.5h4M621 706.5h2M741 706.5h2M810 706.5h7M905 706.5h2M183 710.5h3M211 710.5h4M243 710.5h2M258 710.5h2M374 710.5h2M428 710.5h2M629 710.5h4M649 710.5h17M679 710.5h4M686 710.5h2M749 710.5h9M788 710.5h11M834 710.5h4M882 710.5h2M887 710.5h3M897 710.5h3M188 712.5h6M201 712.5h6M216 712.5h2M250 712.5h5M636 712.5h5M759 712.5h2M784 712.5h2M878 712.5h2M892 712.5h3M1011 679.5h2M1015 679.5h5M1022 679.5h4M1209 679.5h2M1225 679.5h4M1239 679.5h2M150 703.5h2M711 703.5h2M735 703.5h2M910 703.5h2M30 685.5h2M46 685.5h2M58 685.5h3M538 685.5h2M545 685.5h5M565 685.5h4M604 685.5h2M1097 685.5h2M1181 685.5h14M1199 685.5h2M1265 685.5h5M1328 685.5h2M121 697.5h13M338 697.5h5M454 697.5h2M482 697.5h2M719 697.5h2M923 697.5h3M994 697.5h2M1117 697.5h5M180 709.5h3M241 709.5h2M260 709.5h6M376 709.5h2M394 709.5h4M424 709.5h4M430 709.5h2M627 709.5h2M683 709.5h3M747 709.5h2M799 709.5h4M826 709.5h8M884 709.5h3M900 709.5h2M309 691.5h4M586 691.5h2M591 691.5h2M933 691.5h2M1149 691.5h2M1292 691.5h2M18 682.5h7M1006 682.5h2M1013 678.5h2M1026 678.5h4M1221 678.5h4M1241 678.5h2M14 683.5h4M25 683.5h3M51 683.5h5M551 683.5h2M562 683.5h2M1093 683.5h2M1204 683.5h2M1332 683.5h2M528 689.5h3M581 689.5h3M595 689.5h3M1153 689.5h2M1253 689.5h2M1275 689.5h2M1297 689.5h3M1303 689.5h4M1313 689.5h5M1061 676.5h11M1213 676.5h3M313 692.5h8M588 692.5h3M931 692.5h2M935 692.5h2M979 692.5h5M1146 692.5h3M1280 692.5h2M1290 692.5h2M765 717.5h4M769 718.5h3M774 718.5h2M780 714.5h2M864 714.5h4M871 714.5h4M287 696.5h2M333 696.5h5M343 696.5h3M355 696.5h3M456 696.5h2M479 696.5h3M721 696.5h2M955 696.5h4M1122 696.5h5M777 716.5h2M857 716.5h2M194 713.5h7M218 713.5h2M691 713.5h2M782 713.5h2M861 713.5h3M875 713.5h3M116 698.5h5M284 698.5h2M359 698.5h2M484 698.5h2M919 698.5h4M996 698.5h2M1115 698.5h2M221 715.5h2M868 715.5h3M1033 674.5h2M1078 674.5h8M289 695.5h2M330 695.5h3M346 695.5h9M475 695.5h4M927 695.5h2M941 695.5h14M959 695.5h4M991 695.5h2M1127 695.5h15M5 677.5h2M1216 677.5h5M1243 677.5h3M91 701.5h2M96 701.5h4M110 701.5h2M278 701.5h2M913 701.5h2M1055 672.5h2M1009 680.5h2M1020 680.5h2M1229 680.5h10M226 719.5h2M772 719.5h2M845 719.5h5M1059 675.5h2M1072 675.5h6M850 720.5h4M1041 670.5h13M1037 671.5h4M215.5 711v1M235.5 710v2M373.5 711v1M695.5 711v2M758.5 711v1M838.5 711v1M70.5 688v1M299.5 688v1M580.5 688v1M607.5 688v1M1002.5 688v2M1102.5 688v2M1169.5 687v2M1178.5 688v1M1252.5 687v2M1274.5 688v1M80.5 700v1M135.5 700v1M154.5 700v1M160.5 700v1M362.5 700v1M451.5 700v1M520.5 699v2M616.5 700v1M715.5 700v1M731.5 700v1M1108.5 699v2M74.5 693v1M293.5 693v1M524.5 692v2M611.5 693v2M930.5 693v1M1000.5 692v2M1105.5 693v2M1172.5 692v2M1174.5 693v1M1282.5 693v1M75.5 694v1M523.5 694v2M929.5 694v1M999.5 694v2M84.5 704v1M137.5 703v2M149.5 704v1M274.5 704v1M366.5 704v1M448.5 703v2M492.5 704v1M518.5 703v2M620.5 704v1M710.5 704v1M909.5 704v1M13.5 684v1M550.5 684v1M564.5 684v1M1004.5 684v2M1161.5 684v1M1167.5 683v2M1250.5 684v2M79.5 699v1M134.5 698v2M361.5 699v1M452.5 699v1M486.5 699v1M615.5 699v1M730.5 699v1M997.5 699v1M139.5 706v2M145.5 707v1M270.5 707v1M369.5 707v1M699.5 706v2M904.5 707v1M71.5 689v2M609.5 690v2M1001.5 690v2M1103.5 690v1M1170.5 689v2M1177.5 689v2M301.5 686v1M606.5 686v2M1003.5 686v2M1159.5 686v1M1168.5 685v2M1180.5 686v1M1251.5 686v1M34.5 687v1M300.5 687v1M1101.5 687v1M1158.5 687v1M1179.5 687v1M10.5 681v1M1008.5 681v1M1092.5 681v1M1164.5 681v1M1166.5 681v2M1207.5 681v1M1248.5 681v2M85.5 705v1M138.5 705v1M148.5 705v1M273.5 705v1M367.5 705v1M447.5 705v1M621.5 705v1M700.5 705v1M82.5 702v1M136.5 701v2M152.5 702v1M364.5 702v1M449.5 702v1M490.5 702v1M519.5 701v2M618.5 702v1M713.5 702v1M912.5 702v1M140.5 708v2M236.5 708v2M370.5 708v1M698.5 708v1M368.5 706v1M446.5 706v1M141.5 710v1M372.5 710v1M696.5 710v1M234.5 712v2M690.5 712v1M839.5 712v1M8.5 679v1M557.5 679v1M1090.5 679v1M1247.5 679v2M83.5 703v1M88.5 703v1M164.5 703v1M275.5 703v1M365.5 703v1M491.5 703v1M619.5 703v1M575.5 685v1M1160.5 685v1M77.5 696v2M286.5 697v1M358.5 697v1M522.5 696v2M613.5 696v2M728.5 697v1M998.5 696v2M1107.5 697v2M142.5 709v1M371.5 709v1M697.5 709v1M229.5 721v1M72.5 691v1M295.5 691v1M525.5 691v1M1104.5 691v2M1171.5 691v1M1176.5 691v1M1279.5 691v1M11.5 682v1M553.5 682v1M561.5 682v1M1093.5 682v1M1163.5 682v1M1206.5 682v1M7.5 678v1M1089.5 678v1M1211.5 678v1M1246.5 678v1M12.5 683v1M1005.5 683v1M1162.5 683v1M1249.5 683v1M37.5 689v1M298.5 689v1M306.5 689v1M608.5 689v1M1031.5 676v1M1087.5 676v1M73.5 692v1M294.5 692v1M610.5 692v1M1175.5 692v1M224.5 717v1M231.5 717v2M776.5 717v1M843.5 717v1M856.5 717v1M225.5 718v1M844.5 718v1M855.5 718v1M220.5 714v1M233.5 714v1M693.5 714v1M762.5 714v1M841.5 714v1M860.5 714v1M727.5 696v1M926.5 696v1M993.5 696v1M1106.5 695v2M223.5 716v1M232.5 715v2M764.5 716v1M842.5 715v2M694.5 713v1M761.5 713v1M840.5 713v1M78.5 698v1M157.5 698v1M453.5 698v1M521.5 698v1M614.5 698v1M718.5 698v1M729.5 698v1M763.5 715v1M779.5 715v1M859.5 715v1M1058.5 674v1M76.5 695v1M458.5 695v1M612.5 695v1M723.5 695v1M726.5 695v1M1173.5 695v1M1285.5 695v1M1030.5 677v1M1088.5 677v1M1212.5 677v1M81.5 701v1M153.5 701v1M161.5 701v1M363.5 701v1M450.5 701v1M489.5 701v1M617.5 701v1M714.5 701v1M732.5 701v1M1109.5 701v1M1036.5 672v1M9.5 680v1M556.5 680v1M558.5 680v1M1091.5 680v1M1165.5 680v1M1208.5 680v1M230.5 719v2M854.5 719v1M1032.5 675v1M1086.5 675v1M228.5 720v1M1054.5 671v1M1035.5 673v1M1057.5 673v1" fill="none" stroke="#1e90ff" stroke-width="1"/>
<rect x="1673" y="101" width="2" height="1" fill="#000"/>
<text x="1677.6" y="105.0" font-size="9.3" fill="#000" textLength="28.2" lengthAdjust="spacingAndGlyphs">4175.5</text>
<rect x="1673" y="134" width="2" height="1" fill="#000"/>
<text x="1677.6" y="137.8" font-size="9.3" fill="#000" textLength="28.2" lengthAdjust="spacingAndGlyphs">4145.5</text>
<rect x="1673" y="167" width="2" height="1" fill="#000"/>
<text x="1677.6" y="171.2" font-size="9.3" fill="#000" textLength="28.2" lengthAdjust="spacingAndGlyphs">4115.0</text>
<rect x="1673" y="200" width="2" height="1" fill="#000"/>
<text x="1677.6" y="204.0" font-size="9.3" fill="#000" textLength="28.2" lengthAdjust="spacingAndGlyphs">4085.0</text>
<rect x="1673" y="233" width="2" height="1" fill="#000"/>
<text x="1677.6" y="236.8" font-size="9.3" fill="#000" textLength="28.2" lengthAdjust="spacingAndGlyphs">4055.0</text>
<rect x="1673" y="266" width="2" height="1" fill="#000"/>
<text x="1677.6" y="270.1" font-size="9.3" fill="#000" textLength="28.2" lengthAdjust="spacingAndGlyphs">4024.5</text>
<rect x="1673" y="299" width="2" height="1" fill="#000"/>
<text x="1677.6" y="302.9" font-size="9.3" fill="#000" textLength="28.2" lengthAdjust="spacingAndGlyphs">3994.5</text>
<rect x="1673" y="332" width="2" height="1" fill="#000"/>
<text x="1677.6" y="336.3" font-size="9.3" fill="#000" textLength="28.2" lengthAdjust="spacingAndGlyphs">3964.0</text>
<rect x="1673" y="365" width="2" height="1" fill="#000"/>
<text x="1677.6" y="369.1" font-size="9.3" fill="#000" textLength="28.2" lengthAdjust="spacingAndGlyphs">3934.0</text>
<rect x="1673" y="398" width="2" height="1" fill="#000"/>
<text x="1677.6" y="401.9" font-size="9.3" fill="#000" textLength="28.2" lengthAdjust="spacingAndGlyphs">3904.0</text>
<rect x="1673" y="431" width="2" height="1" fill="#000"/>
<text x="1677.6" y="435.2" font-size="9.3" fill="#000" textLength="28.2" lengthAdjust="spacingAndGlyphs">3873.5</text>
<rect x="1673" y="464" width="2" height="1" fill="#000"/>
<text x="1677.6" y="468.0" font-size="9.3" fill="#000" textLength="28.2" lengthAdjust="spacingAndGlyphs">3843.5</text>
<rect x="1673" y="497" width="2" height="1" fill="#000"/>
<text x="1677.6" y="501.4" font-size="9.3" fill="#000" textLength="28.2" lengthAdjust="spacingAndGlyphs">3813.0</text>
<rect x="1673" y="530" width="2" height="1" fill="#000"/>
<text x="1677.6" y="534.2" font-size="9.3" fill="#000" textLength="28.2" lengthAdjust="spacingAndGlyphs">3783.0</text>
<rect x="1673" y="537" width="2" height="1" fill="#000"/>
<rect x="1673" y="612" width="2" height="1" fill="#000"/>
<rect x="1673" y="644" width="2" height="1" fill="#000"/>
<rect x="1673" y="649" width="2" height="1" fill="#000"/>
<rect x="1673" y="756" width="2" height="1" fill="#000"/>
<text x="1675.8" y="545.9" font-size="9.3" fill="#000" textLength="23.6" lengthAdjust="spacingAndGlyphs">56.36</text>
<text x="1675.8" y="616" font-size="9.3" fill="#000" textLength="18.4" lengthAdjust="spacingAndGlyphs">0.00</text>
<text x="1675.8" y="642.2" font-size="9.3" fill="#000" textLength="26.5" lengthAdjust="spacingAndGlyphs">-23.78</text>
<text x="1675.8" y="657.9" font-size="9.3" fill="#000" textLength="15.6" lengthAdjust="spacingAndGlyphs">100</text>
<text x="1675.3" y="685" font-size="9.3" fill="#000" textLength="10.2" lengthAdjust="spacingAndGlyphs">70</text>
<text x="1675.3" y="727.9" font-size="9.3" fill="#000" textLength="10.2" lengthAdjust="spacingAndGlyphs">30</text>
<text x="1675.8" y="753.7" font-size="9.3" fill="#000" textLength="5.2" lengthAdjust="spacingAndGlyphs">0</text>
<rect x="1674" y="71" width="36" height="2" fill="#fff"/>
<rect x="1674" y="60" width="36" height="11" fill="#000"/>
<text x="1677.6" y="69" font-size="9.3" fill="#fff" textLength="28.2" lengthAdjust="spacingAndGlyphs">4208.4</text>
<rect x="1674" y="79" width="36" height="11" fill="#00ff7f"/>
<text x="1677.6" y="88" font-size="9.3" fill="#fff" textLength="28.2" lengthAdjust="spacingAndGlyphs">4190.0</text>
<rect x="1674" y="145" width="36" height="11" fill="#4169e1"/>
<text x="1677.6" y="154" font-size="9.3" fill="#fff" textLength="28.2" lengthAdjust="spacingAndGlyphs">4130.0</text>
<rect x="1674" y="211" width="36" height="11" fill="#4169e1"/>
<text x="1677.6" y="220" font-size="9.3" fill="#fff" textLength="28.2" lengthAdjust="spacingAndGlyphs">4070.0</text>
<text x="1677.6" y="75.3" font-size="9.3" fill="#000" textLength="28.2" lengthAdjust="spacingAndGlyphs" clip-path="url(#sl)">4205.5</text>
<rect x="5" y="758" width="1" height="3" fill="#000"/>
<text x="3.4" y="769.9" font-size="9.25" fill="#000" textLength="48.1" lengthAdjust="spacingAndGlyphs">9 Sep 2019</text>
<rect x="69" y="758" width="1" height="3" fill="#000"/>
<text x="67.4" y="769.9" font-size="9.25" fill="#000" textLength="55.4" lengthAdjust="spacingAndGlyphs">16 Sep 05:00</text>
<rect x="133" y="758" width="1" height="3" fill="#000"/>
<text x="131.4" y="769.9" font-size="9.25" fill="#000" textLength="55.4" lengthAdjust="spacingAndGlyphs">20 Sep 05:00</text>
<rect x="197" y="758" width="1" height="3" fill="#000"/>
<text x="195.4" y="769.9" font-size="9.25" fill="#000" textLength="55.4" lengthAdjust="spacingAndGlyphs">26 Sep 05:00</text>
<rect x="261" y="758" width="1" height="3" fill="#000"/>
<text x="259.4" y="769.9" font-size="9.25" fill="#000" textLength="49.6" lengthAdjust="spacingAndGlyphs">9 Oct 05:00</text>
<rect x="325" y="758" width="1" height="3" fill="#000"/>
<text x="323.4" y="769.9" font-size="9.25" fill="#000" textLength="54.3" lengthAdjust="spacingAndGlyphs">15 Oct 05:00</text>
<rect x="389" y="758" width="1" height="3" fill="#000"/>
<text x="387.4" y="769.9" font-size="9.25" fill="#000" textLength="54.3" lengthAdjust="spacingAndGlyphs">21 Oct 05:00</text>
<rect x="453" y="758" width="1" height="3" fill="#000"/>
<text x="451.4" y="769.9" font-size="9.25" fill="#000" textLength="54.3" lengthAdjust="spacingAndGlyphs">25 Oct 05:00</text>
<rect x="517" y="758" width="1" height="3" fill="#000"/>
<text x="515.4" y="769.9" font-size="9.25" fill="#000" textLength="54.3" lengthAdjust="spacingAndGlyphs">31 Oct 05:00</text>
<rect x="581" y="758" width="1" height="3" fill="#000"/>
<text x="579.4" y="769.9" font-size="9.25" fill="#000" textLength="52.2" lengthAdjust="spacingAndGlyphs">6 Nov 05:00</text>
<rect x="645" y="758" width="1" height="3" fill="#000"/>
<text x="643.4" y="769.9" font-size="9.25" fill="#000" textLength="56.9" lengthAdjust="spacingAndGlyphs">12 Nov 05:00</text>
<rect x="709" y="758" width="1" height="3" fill="#000"/>
<text x="707.4" y="769.9" font-size="9.25" fill="#000" textLength="56.9" lengthAdjust="spacingAndGlyphs">18 Nov 05:00</text>
<rect x="773" y="758" width="1" height="3" fill="#000"/>
<text x="771.4" y="769.9" font-size="9.25" fill="#000" textLength="56.9" lengthAdjust="spacingAndGlyphs">22 Nov 05:00</text>
<rect x="837" y="758" width="1" height="3" fill="#000"/>
<text x="835.4" y="769.9" font-size="9.25" fill="#000" textLength="56.9" lengthAdjust="spacingAndGlyphs">28 Nov 05:00</text>
<rect x="901" y="758" width="1" height="3" fill="#000"/>
<text x="899.4" y="769.9" font-size="9.25" fill="#000" textLength="50.3" lengthAdjust="spacingAndGlyphs">4 Dec 05:00</text>
<rect x="965" y="758" width="1" height="3" fill="#000"/>
<text x="963.4" y="769.9" font-size="9.25" fill="#000" textLength="55.0" lengthAdjust="spacingAndGlyphs">10 Dec 05:00</text>
<rect x="1029" y="758" width="1" height="3" fill="#000"/>
<text x="1027.4" y="769.9" font-size="9.25" fill="#000" textLength="55.0" lengthAdjust="spacingAndGlyphs">16 Dec 05:00</text>
<rect x="1093" y="758" width="1" height="3" fill="#000"/>
<text x="1091.4" y="769.9" font-size="9.25" fill="#000" textLength="55.0" lengthAdjust="spacingAndGlyphs">20 Dec 05:00</text>
<rect x="1157" y="758" width="1" height="3" fill="#000"/>
<text x="1155.4" y="769.9" font-size="9.25" fill="#000" textLength="55.0" lengthAdjust="spacingAndGlyphs">26 Dec 05:00</text>
<rect x="1221" y="758" width="1" height="3" fill="#000"/>
<text x="1219.4" y="769.9" font-size="9.25" fill="#000" textLength="48.3" lengthAdjust="spacingAndGlyphs">2 Jan 05:00</text>
<rect x="1285" y="758" width="1" height="3" fill="#000"/>
<text x="1283.4" y="769.9" font-size="9.25" fill="#000" textLength="48.3" lengthAdjust="spacingAndGlyphs">8 Jan 05:00</text>
<text x="20.2" y="50" font-size="9.8" fill="#000" textLength="65.2" lengthAdjust="spacingAndGlyphs">CHINA300-,H4</text>
<text x="91.2" y="50" font-size="9.8" fill="#000" textLength="27.2" lengthAdjust="spacingAndGlyphs">4175.6</text>
<text x="121.8" y="50" font-size="9.8" fill="#000" textLength="28.4" lengthAdjust="spacingAndGlyphs">4210.6</text>
<text x="152.6" y="50" font-size="9.8" fill="#000" textLength="28.5" lengthAdjust="spacingAndGlyphs">4170.9</text>
<text x="183.7" y="50" font-size="9.8" fill="#000" textLength="28.2" lengthAdjust="spacingAndGlyphs">4208.4</text>
<path d="M8 45 L15.4 45 L11.7 49.2 Z" fill="#000" shape-rendering="auto"/>
<rect x="9" y="539" width="119" height="9" fill="#ffffff"/>
<text x="9.2" y="548" font-size="9.8" fill="#000" textLength="65.8" lengthAdjust="spacingAndGlyphs">MACD(12,26,9)</text>
<text x="78.3" y="548" font-size="9.8" fill="#000" textLength="23" lengthAdjust="spacingAndGlyphs">37.85</text>
<text x="104" y="548" font-size="9.8" fill="#000" textLength="23.4" lengthAdjust="spacingAndGlyphs">39.38</text>
<text x="9" y="660" font-size="9.8" fill="#000" textLength="68.6" lengthAdjust="spacingAndGlyphs">RSI(14) 68.9655</text>
<text x="1352.8" y="311.3" font-size="33.2" fill="#ff1e00" textLength="160.75" lengthAdjust="spacing" shape-rendering="auto" style="font-family:'Liberation Sans','Noto Sans CJK SC',sans-serif">多空转折点</text>
<text x="1513.95" y="310.1" font-size="32.8" fill="#ff1e00" textLength="76.1" lengthAdjust="spacingAndGlyphs" shape-rendering="auto" style="font-family:'Liberation Sans','Noto Sans CJK SC',sans-serif">4190</text></svg>
</body></html>
